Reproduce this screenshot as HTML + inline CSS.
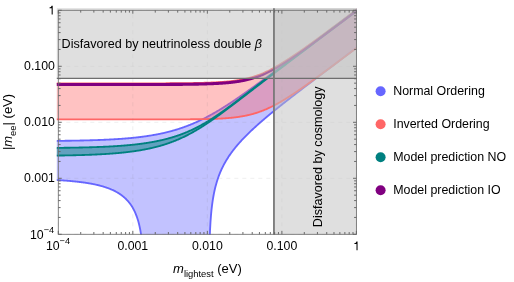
<!DOCTYPE html>
<html><head><meta charset="utf-8"><title>Neutrinoless double beta decay</title>
<style>html,body{margin:0;padding:0;background:#fff;width:514px;height:282px;overflow:hidden}
body{position:relative;font-family:"Liberation Sans",sans-serif}</style></head>
<body>
<svg width="514" height="282" viewBox="0 0 514 282" style="will-change:transform;position:absolute;left:0;top:0;display:block">
<defs><clipPath id="c"><rect x="56.8" y="8.2" width="300.2" height="226.5"/></clipPath></defs>
<rect x="0" y="0" width="514" height="282" fill="#fff"/>
<g clip-path="url(#c)" fill="none" stroke-linejoin="round">
<path d="M54.00,140.92 L54.50,140.91 L55.00,140.91 L55.50,140.90 L56.00,140.90 L56.50,140.89 L57.00,140.89 L57.50,140.88 L58.00,140.88 L58.50,140.87 L59.00,140.87 L59.50,140.86 L60.00,140.85 L60.50,140.85 L61.00,140.84 L61.50,140.84 L62.00,140.83 L62.50,140.82 L63.00,140.82 L63.50,140.81 L64.00,140.80 L64.50,140.80 L65.00,140.79 L65.50,140.79 L66.00,140.78 L66.50,140.77 L67.00,140.76 L67.50,140.76 L68.00,140.75 L68.50,140.74 L69.00,140.73 L69.50,140.73 L70.00,140.72 L70.50,140.71 L71.00,140.70 L71.50,140.70 L72.00,140.69 L72.50,140.68 L73.00,140.67 L73.50,140.66 L74.00,140.65 L74.50,140.64 L75.00,140.64 L75.50,140.63 L76.00,140.62 L76.50,140.61 L77.00,140.60 L77.50,140.59 L78.00,140.58 L78.50,140.57 L79.00,140.56 L79.50,140.55 L80.00,140.54 L80.50,140.53 L81.00,140.52 L81.50,140.50 L82.00,140.49 L82.50,140.48 L83.00,140.47 L83.50,140.46 L84.00,140.45 L84.50,140.43 L85.00,140.42 L85.50,140.41 L86.00,140.40 L86.50,140.38 L87.00,140.37 L87.50,140.36 L88.00,140.35 L88.50,140.33 L89.00,140.32 L89.50,140.30 L90.00,140.29 L90.50,140.28 L91.00,140.26 L91.50,140.25 L92.00,140.23 L92.50,140.22 L93.00,140.20 L93.50,140.18 L94.00,140.17 L94.50,140.15 L95.00,140.14 L95.50,140.12 L96.00,140.10 L96.50,140.08 L97.00,140.07 L97.50,140.05 L98.00,140.03 L98.50,140.01 L99.00,139.99 L99.50,139.98 L100.00,139.96 L100.50,139.94 L101.00,139.92 L101.50,139.90 L102.00,139.88 L102.50,139.86 L103.00,139.83 L103.50,139.81 L104.00,139.79 L104.50,139.77 L105.00,139.75 L105.50,139.73 L106.00,139.70 L106.50,139.68 L107.00,139.66 L107.50,139.63 L108.00,139.61 L108.50,139.58 L109.00,139.56 L109.50,139.53 L110.00,139.51 L110.50,139.48 L111.00,139.45 L111.50,139.43 L112.00,139.40 L112.50,139.37 L113.00,139.34 L113.50,139.31 L114.00,139.29 L114.50,139.26 L115.00,139.23 L115.50,139.20 L116.00,139.17 L116.50,139.13 L117.00,139.10 L117.50,139.07 L118.00,139.04 L118.50,139.01 L119.00,138.97 L119.50,138.94 L120.00,138.90 L120.50,138.87 L121.00,138.83 L121.50,138.80 L122.00,138.76 L122.50,138.72 L123.00,138.68 L123.50,138.65 L124.00,138.61 L124.50,138.57 L125.00,138.53 L125.50,138.49 L126.00,138.45 L126.50,138.41 L127.00,138.36 L127.50,138.32 L128.00,138.28 L128.50,138.23 L129.00,138.19 L129.50,138.14 L130.00,138.10 L130.50,138.05 L131.00,138.00 L131.50,137.96 L132.00,137.91 L132.50,137.86 L133.00,137.81 L133.50,137.76 L134.00,137.70 L134.50,137.65 L135.00,137.60 L135.50,137.55 L136.00,137.49 L136.50,137.44 L137.00,137.38 L137.50,137.32 L138.00,137.27 L138.50,137.21 L139.00,137.15 L139.50,137.09 L140.00,137.03 L140.50,136.97 L141.00,136.90 L141.50,136.84 L142.00,136.78 L142.50,136.71 L143.00,136.64 L143.50,136.58 L144.00,136.51 L144.50,136.44 L145.00,136.37 L145.50,136.30 L146.00,136.23 L146.50,136.16 L147.00,136.08 L147.50,136.01 L148.00,135.93 L148.50,135.86 L149.00,135.78 L149.50,135.70 L150.00,135.62 L150.50,135.54 L151.00,135.46 L151.50,135.38 L152.00,135.29 L152.50,135.21 L153.00,135.12 L153.50,135.03 L154.00,134.94 L154.50,134.86 L155.00,134.76 L155.50,134.67 L156.00,134.58 L156.50,134.48 L157.00,134.39 L157.50,134.29 L158.00,134.19 L158.50,134.10 L159.00,133.99 L159.50,133.89 L160.00,133.79 L160.50,133.69 L161.00,133.58 L161.50,133.47 L162.00,133.36 L162.50,133.26 L163.00,133.14 L163.50,133.03 L164.00,132.92 L164.50,132.80 L165.00,132.69 L165.50,132.57 L166.00,132.45 L166.50,132.33 L167.00,132.21 L167.50,132.08 L168.00,131.96 L168.50,131.83 L169.00,131.70 L169.50,131.57 L170.00,131.44 L170.50,131.31 L171.00,131.17 L171.50,131.04 L172.00,130.90 L172.50,130.76 L173.00,130.62 L173.50,130.48 L174.00,130.33 L174.50,130.19 L175.00,130.04 L175.50,129.89 L176.00,129.74 L176.50,129.59 L177.00,129.44 L177.50,129.28 L178.00,129.12 L178.50,128.97 L179.00,128.80 L179.50,128.64 L180.00,128.48 L180.50,128.31 L181.00,128.15 L181.50,127.98 L182.00,127.81 L182.50,127.63 L183.00,127.46 L183.50,127.28 L184.00,127.10 L184.50,126.92 L185.00,126.74 L185.50,126.56 L186.00,126.37 L186.50,126.19 L187.00,126.00 L187.50,125.81 L188.00,125.62 L188.50,125.42 L189.00,125.23 L189.50,125.03 L190.00,124.83 L190.50,124.63 L191.00,124.42 L191.50,124.22 L192.00,124.01 L192.50,123.80 L193.00,123.59 L193.50,123.38 L194.00,123.16 L194.50,122.95 L195.00,122.73 L195.50,122.51 L196.00,122.29 L196.50,122.06 L197.00,121.84 L197.50,121.61 L198.00,121.38 L198.50,121.15 L199.00,120.92 L199.50,120.68 L200.00,120.44 L200.50,120.21 L201.00,119.97 L201.50,119.72 L202.00,119.48 L202.50,119.23 L203.00,118.99 L203.50,118.74 L204.00,118.49 L204.50,118.23 L205.00,117.98 L205.50,117.72 L206.00,117.46 L206.50,117.20 L207.00,116.94 L207.50,116.68 L208.00,116.41 L208.50,116.15 L209.00,115.88 L209.50,115.61 L210.00,115.34 L210.50,115.06 L211.00,114.79 L211.50,114.51 L212.00,114.23 L212.50,113.95 L213.00,113.67 L213.50,113.39 L214.00,113.10 L214.50,112.82 L215.00,112.53 L215.50,112.24 L216.00,111.95 L216.50,111.65 L217.00,111.36 L217.50,111.07 L218.00,110.77 L218.50,110.47 L219.00,110.17 L219.50,109.87 L220.00,109.56 L220.50,109.26 L221.00,108.95 L221.50,108.65 L222.00,108.34 L222.50,108.03 L223.00,107.72 L223.50,107.41 L224.00,107.09 L224.50,106.78 L225.00,106.46 L225.50,106.14 L226.00,105.82 L226.50,105.50 L227.00,105.18 L227.50,104.86 L228.00,104.54 L228.50,104.21 L229.00,103.89 L229.50,103.56 L230.00,103.23 L230.50,102.90 L231.00,102.57 L231.50,102.24 L232.00,101.91 L232.50,101.58 L233.00,101.24 L233.50,100.91 L234.00,100.57 L234.50,100.23 L235.00,99.90 L235.50,99.56 L236.00,99.22 L236.50,98.88 L237.00,98.53 L237.50,98.19 L238.00,97.85 L238.50,97.50 L239.00,97.16 L239.50,96.81 L240.00,96.47 L240.50,96.12 L241.00,95.77 L241.50,95.43 L242.00,95.08 L242.50,94.73 L243.00,94.38 L243.50,94.02 L244.00,93.67 L244.50,93.32 L245.00,92.97 L245.50,92.61 L246.00,92.26 L246.50,91.90 L247.00,91.55 L247.50,91.19 L248.00,90.84 L248.50,90.48 L249.00,90.12 L249.50,89.76 L250.00,89.41 L250.50,89.05 L251.00,88.69 L251.50,88.33 L252.00,87.97 L252.50,87.61 L253.00,87.25 L253.50,86.88 L254.00,86.52 L254.50,86.16 L255.00,85.80 L255.50,85.44 L256.00,85.07 L256.50,84.71 L257.00,84.34 L257.50,83.98 L258.00,83.62 L258.50,83.25 L259.00,82.88 L259.50,82.52 L260.00,82.15 L260.50,81.79 L261.00,81.42 L261.50,81.05 L262.00,80.69 L262.50,80.32 L263.00,79.95 L263.50,79.58 L264.00,79.22 L264.50,78.85 L265.00,78.48 L265.50,78.11 L266.00,77.74 L266.50,77.37 L267.00,77.00 L267.50,76.64 L268.00,76.27 L268.50,75.90 L269.00,75.53 L269.50,75.16 L270.00,74.79 L270.50,74.42 L271.00,74.04 L271.50,73.67 L272.00,73.30 L272.50,72.93 L273.00,72.56 L273.50,72.19 L274.00,71.82 L274.50,71.45 L275.00,71.07 L275.50,70.70 L276.00,70.33 L276.50,69.96 L277.00,69.59 L277.50,69.21 L278.00,68.84 L278.50,68.47 L279.00,68.10 L279.50,67.72 L280.00,67.35 L280.50,66.98 L281.00,66.61 L281.50,66.23 L282.00,65.86 L282.50,65.49 L283.00,65.11 L283.50,64.74 L284.00,64.37 L284.50,63.99 L285.00,63.62 L285.50,63.25 L286.00,62.87 L286.50,62.50 L287.00,62.13 L287.50,61.75 L288.00,61.38 L288.50,61.00 L289.00,60.63 L289.50,60.26 L290.00,59.88 L290.50,59.51 L291.00,59.13 L291.50,58.76 L292.00,58.39 L292.50,58.01 L293.00,57.64 L293.50,57.26 L294.00,56.89 L294.50,56.51 L295.00,56.14 L295.50,55.76 L296.00,55.39 L296.50,55.01 L297.00,54.64 L297.50,54.27 L298.00,53.89 L298.50,53.52 L299.00,53.14 L299.50,52.77 L300.00,52.39 L300.50,52.02 L301.00,51.64 L301.50,51.27 L302.00,50.89 L302.50,50.52 L303.00,50.14 L303.50,49.77 L304.00,49.39 L304.50,49.02 L305.00,48.64 L305.50,48.27 L306.00,47.89 L306.50,47.52 L307.00,47.14 L307.50,46.77 L308.00,46.39 L308.50,46.02 L309.00,45.64 L309.50,45.27 L310.00,44.89 L310.50,44.52 L311.00,44.14 L311.50,43.76 L312.00,43.39 L312.50,43.01 L313.00,42.64 L313.50,42.26 L314.00,41.89 L314.50,41.51 L315.00,41.14 L315.50,40.76 L316.00,40.39 L316.50,40.01 L317.00,39.64 L317.50,39.26 L318.00,38.88 L318.50,38.51 L319.00,38.13 L319.50,37.76 L320.00,37.38 L320.50,37.01 L321.00,36.63 L321.50,36.26 L322.00,35.88 L322.50,35.51 L323.00,35.13 L323.50,34.75 L324.00,34.38 L324.50,34.00 L325.00,33.63 L325.50,33.25 L326.00,32.88 L326.50,32.50 L327.00,32.13 L327.50,31.75 L328.00,31.37 L328.50,31.00 L329.00,30.62 L329.50,30.25 L330.00,29.87 L330.50,29.50 L331.00,29.12 L331.50,28.75 L332.00,28.37 L332.50,27.99 L333.00,27.62 L333.50,27.24 L334.00,26.87 L334.50,26.49 L335.00,26.12 L335.50,25.74 L336.00,25.37 L336.50,24.99 L337.00,24.61 L337.50,24.24 L338.00,23.86 L338.50,23.49 L339.00,23.11 L339.50,22.74 L340.00,22.36 L340.50,21.98 L341.00,21.61 L341.50,21.23 L342.00,20.86 L342.50,20.48 L343.00,20.11 L343.50,19.73 L344.00,19.36 L344.50,18.98 L345.00,18.60 L345.50,18.23 L346.00,17.85 L346.50,17.48 L347.00,17.10 L347.50,16.73 L348.00,16.35 L348.50,15.97 L349.00,15.60 L349.50,15.22 L350.00,14.85 L350.50,14.47 L351.00,14.10 L351.50,13.72 L352.00,13.34 L352.50,12.97 L353.00,12.59 L353.50,12.22 L354.00,11.84 L354.50,11.47 L355.00,11.09 L355.50,10.71 L356.00,10.34 L356.50,9.96 L357.00,9.59 L357.50,9.21 L358.00,8.84 L358.50,8.46 L359.00,8.08 L359.50,7.71 L359.50,45.59 L359.00,45.96 L358.50,46.34 L358.00,46.72 L357.50,47.09 L357.00,47.47 L356.50,47.84 L356.00,48.22 L355.50,48.60 L355.00,48.97 L354.50,49.35 L354.00,49.72 L353.50,50.10 L353.00,50.48 L352.50,50.85 L352.00,51.23 L351.50,51.60 L351.00,51.98 L350.50,52.36 L350.00,52.73 L349.50,53.11 L349.00,53.48 L348.50,53.86 L348.00,54.24 L347.50,54.61 L347.00,54.99 L346.50,55.36 L346.00,55.74 L345.50,56.12 L345.00,56.49 L344.50,56.87 L344.00,57.25 L343.50,57.62 L343.00,58.00 L342.50,58.37 L342.00,58.75 L341.50,59.13 L341.00,59.50 L340.50,59.88 L340.00,60.26 L339.50,60.63 L339.00,61.01 L338.50,61.39 L338.00,61.76 L337.50,62.14 L337.00,62.52 L336.50,62.89 L336.00,63.27 L335.50,63.64 L335.00,64.02 L334.50,64.40 L334.00,64.77 L333.50,65.15 L333.00,65.53 L332.50,65.91 L332.00,66.28 L331.50,66.66 L331.00,67.04 L330.50,67.41 L330.00,67.79 L329.50,68.17 L329.00,68.54 L328.50,68.92 L328.00,69.30 L327.50,69.67 L327.00,70.05 L326.50,70.43 L326.00,70.81 L325.50,71.18 L325.00,71.56 L324.50,71.94 L324.00,72.32 L323.50,72.69 L323.00,73.07 L322.50,73.45 L322.00,73.83 L321.50,74.20 L321.00,74.58 L320.50,74.96 L320.00,75.34 L319.50,75.72 L319.00,76.09 L318.50,76.47 L318.00,76.85 L317.50,77.23 L317.00,77.61 L316.50,77.99 L316.00,78.36 L315.50,78.74 L315.00,79.12 L314.50,79.50 L314.00,79.88 L313.50,80.26 L313.00,80.64 L312.50,81.02 L312.00,81.40 L311.50,81.78 L311.00,82.16 L310.50,82.54 L310.00,82.92 L309.50,83.30 L309.00,83.68 L308.50,84.06 L308.00,84.44 L307.50,84.82 L307.00,85.20 L306.50,85.58 L306.00,85.96 L305.50,86.34 L305.00,86.72 L304.50,87.10 L304.00,87.48 L303.50,87.87 L303.00,88.25 L302.50,88.63 L302.00,89.01 L301.50,89.40 L301.00,89.78 L300.50,90.16 L300.00,90.54 L299.50,90.93 L299.00,91.31 L298.50,91.69 L298.00,92.08 L297.50,92.46 L297.00,92.85 L296.50,93.23 L296.00,93.62 L295.50,94.00 L295.00,94.39 L294.50,94.77 L294.00,95.16 L293.50,95.55 L293.00,95.93 L292.50,96.32 L292.00,96.71 L291.50,97.09 L291.00,97.48 L290.50,97.87 L290.00,98.26 L289.50,98.65 L289.00,99.04 L288.50,99.43 L288.00,99.82 L287.50,100.21 L287.00,100.60 L286.50,100.99 L286.00,101.38 L285.50,101.78 L285.00,102.17 L284.50,102.56 L284.00,102.96 L283.50,103.35 L283.00,103.74 L282.50,104.14 L282.00,104.54 L281.50,104.93 L281.00,105.33 L280.50,105.73 L280.00,106.12 L279.50,106.52 L279.00,106.92 L278.50,107.32 L278.00,107.72 L277.50,108.12 L277.00,108.52 L276.50,108.93 L276.00,109.33 L275.50,109.73 L275.00,110.14 L274.50,110.54 L274.00,110.95 L273.50,111.36 L273.00,111.76 L272.50,112.17 L272.00,112.58 L271.50,112.99 L271.00,113.40 L270.50,113.82 L270.00,114.23 L269.50,114.64 L269.00,115.06 L268.50,115.47 L268.00,115.89 L267.50,116.31 L267.00,116.73 L266.50,117.15 L266.00,117.57 L265.50,117.99 L265.00,118.41 L264.50,118.84 L264.00,119.27 L263.50,119.69 L263.00,120.12 L262.50,120.55 L262.00,120.98 L261.50,121.42 L261.00,121.85 L260.50,122.29 L260.00,122.72 L259.50,123.16 L259.00,123.60 L258.50,124.04 L258.00,124.49 L257.50,124.93 L257.00,125.38 L256.50,125.83 L256.00,126.28 L255.50,126.73 L255.00,127.19 L254.50,127.64 L254.00,128.10 L253.50,128.56 L253.00,129.03 L252.50,129.49 L252.00,129.96 L251.50,130.43 L251.00,130.90 L250.50,131.38 L250.00,131.86 L249.50,132.34 L249.00,132.82 L248.50,133.31 L248.00,133.80 L247.50,134.29 L247.00,134.79 L246.50,135.28 L246.00,135.79 L245.50,136.29 L245.00,136.80 L244.50,137.31 L244.00,137.83 L243.50,138.35 L243.00,138.88 L242.50,139.41 L242.00,139.94 L241.50,140.48 L241.00,141.02 L240.50,141.57 L240.00,142.12 L239.50,142.68 L239.00,143.24 L238.50,143.81 L238.00,144.39 L237.50,144.97 L237.00,145.56 L236.50,146.15 L236.00,146.75 L235.50,147.36 L235.00,147.98 L234.50,148.60 L234.00,149.24 L233.50,149.88 L233.00,150.53 L232.50,151.19 L232.00,151.86 L231.50,152.54 L231.00,153.23 L230.50,153.93 L230.00,154.64 L229.50,155.37 L229.00,156.11 L228.50,156.86 L228.00,157.63 L227.50,158.41 L227.00,159.21 L226.50,160.03 L226.00,160.86 L225.50,161.72 L225.00,162.60 L224.50,163.49 L224.00,164.42 L223.50,165.36 L223.00,166.34 L222.50,167.34 L222.00,168.38 L221.50,169.45 L221.00,170.56 L220.50,171.71 L220.00,172.90 L219.50,174.14 L219.00,175.43 L218.50,176.78 L218.00,178.20 L217.50,179.68 L217.00,181.25 L216.50,182.91 L216.00,184.67 L215.50,186.56 L215.00,188.58 L214.50,190.76 L214.00,193.13 L213.50,195.74 L213.00,198.62 L212.50,201.87 L212.00,205.58 L211.50,209.93 L211.00,215.16 L210.50,221.78 L210.00,230.82 L209.50,245.17 L209.00,284.09 L208.50,400.00 L208.00,400.00 L207.50,400.00 L207.00,400.00 L206.50,400.00 L206.00,400.00 L205.50,400.00 L205.00,400.00 L204.50,400.00 L204.00,400.00 L203.50,400.00 L203.00,400.00 L202.50,400.00 L202.00,400.00 L201.50,400.00 L201.00,400.00 L200.50,400.00 L200.00,400.00 L199.50,400.00 L199.00,400.00 L198.50,400.00 L198.00,400.00 L197.50,400.00 L197.00,400.00 L196.50,400.00 L196.00,400.00 L195.50,400.00 L195.00,400.00 L194.50,400.00 L194.00,400.00 L193.50,400.00 L193.00,400.00 L192.50,400.00 L192.00,400.00 L191.50,400.00 L191.00,400.00 L190.50,400.00 L190.00,400.00 L189.50,400.00 L189.00,400.00 L188.50,400.00 L188.00,400.00 L187.50,400.00 L187.00,400.00 L186.50,400.00 L186.00,400.00 L185.50,400.00 L185.00,400.00 L184.50,400.00 L184.00,400.00 L183.50,400.00 L183.00,400.00 L182.50,400.00 L182.00,400.00 L181.50,400.00 L181.00,400.00 L180.50,400.00 L180.00,400.00 L179.50,400.00 L179.00,400.00 L178.50,400.00 L178.00,400.00 L177.50,400.00 L177.00,400.00 L176.50,400.00 L176.00,400.00 L175.50,400.00 L175.00,400.00 L174.50,400.00 L174.00,400.00 L173.50,400.00 L173.00,400.00 L172.50,400.00 L172.00,400.00 L171.50,400.00 L171.00,400.00 L170.50,400.00 L170.00,400.00 L169.50,400.00 L169.00,400.00 L168.50,400.00 L168.00,400.00 L167.50,400.00 L167.00,400.00 L166.50,400.00 L166.00,400.00 L165.50,400.00 L165.00,400.00 L164.50,400.00 L164.00,400.00 L163.50,400.00 L163.00,400.00 L162.50,400.00 L162.00,400.00 L161.50,400.00 L161.00,400.00 L160.50,400.00 L160.00,400.00 L159.50,400.00 L159.00,400.00 L158.50,400.00 L158.00,400.00 L157.50,400.00 L157.00,400.00 L156.50,400.00 L156.00,400.00 L155.50,400.00 L155.00,400.00 L154.50,400.00 L154.00,400.00 L153.50,400.00 L153.00,400.00 L152.50,400.00 L152.00,400.00 L151.50,400.00 L151.00,400.00 L150.50,400.00 L150.00,400.00 L149.50,400.00 L149.00,400.00 L148.50,400.00 L148.00,400.00 L147.50,400.00 L147.00,400.00 L146.50,400.00 L146.00,400.00 L145.50,400.00 L145.00,400.00 L144.50,333.72 L144.00,278.27 L143.50,262.86 L143.00,253.60 L142.50,247.00 L142.00,241.88 L141.50,237.71 L141.00,234.20 L140.50,231.17 L140.00,228.51 L139.50,226.15 L139.00,224.03 L138.50,222.10 L138.00,220.34 L137.50,218.73 L137.00,217.23 L136.50,215.84 L136.00,214.55 L135.50,213.33 L135.00,212.20 L134.50,211.12 L134.00,210.11 L133.50,209.15 L133.00,208.24 L132.50,207.38 L132.00,206.56 L131.50,205.77 L131.00,205.03 L130.50,204.31 L130.00,203.62 L129.50,202.97 L129.00,202.34 L128.50,201.73 L128.00,201.15 L127.50,200.59 L127.00,200.05 L126.50,199.53 L126.00,199.03 L125.50,198.54 L125.00,198.07 L124.50,197.62 L124.00,197.18 L123.50,196.76 L123.00,196.35 L122.50,195.95 L122.00,195.56 L121.50,195.19 L121.00,194.83 L120.50,194.47 L120.00,194.13 L119.50,193.80 L119.00,193.47 L118.50,193.16 L118.00,192.85 L117.50,192.56 L117.00,192.27 L116.50,191.98 L116.00,191.71 L115.50,191.44 L115.00,191.18 L114.50,190.93 L114.00,190.68 L113.50,190.44 L113.00,190.20 L112.50,189.97 L112.00,189.75 L111.50,189.53 L111.00,189.31 L110.50,189.10 L110.00,188.90 L109.50,188.70 L109.00,188.51 L108.50,188.31 L108.00,188.13 L107.50,187.95 L107.00,187.77 L106.50,187.59 L106.00,187.42 L105.50,187.26 L105.00,187.10 L104.50,186.94 L104.00,186.78 L103.50,186.63 L103.00,186.48 L102.50,186.33 L102.00,186.19 L101.50,186.05 L101.00,185.91 L100.50,185.78 L100.00,185.64 L99.50,185.51 L99.00,185.39 L98.50,185.26 L98.00,185.14 L97.50,185.02 L97.00,184.91 L96.50,184.79 L96.00,184.68 L95.50,184.57 L95.00,184.46 L94.50,184.36 L94.00,184.25 L93.50,184.15 L93.00,184.05 L92.50,183.95 L92.00,183.86 L91.50,183.76 L91.00,183.67 L90.50,183.58 L90.00,183.49 L89.50,183.40 L89.00,183.32 L88.50,183.23 L88.00,183.15 L87.50,183.07 L87.00,182.99 L86.50,182.91 L86.00,182.84 L85.50,182.76 L85.00,182.69 L84.50,182.62 L84.00,182.54 L83.50,182.47 L83.00,182.41 L82.50,182.34 L82.00,182.27 L81.50,182.21 L81.00,182.14 L80.50,182.08 L80.00,182.02 L79.50,181.96 L79.00,181.90 L78.50,181.84 L78.00,181.78 L77.50,181.73 L77.00,181.67 L76.50,181.62 L76.00,181.56 L75.50,181.51 L75.00,181.46 L74.50,181.41 L74.00,181.36 L73.50,181.31 L73.00,181.26 L72.50,181.21 L72.00,181.17 L71.50,181.12 L71.00,181.08 L70.50,181.03 L70.00,180.99 L69.50,180.94 L69.00,180.90 L68.50,180.86 L68.00,180.82 L67.50,180.78 L67.00,180.74 L66.50,180.70 L66.00,180.66 L65.50,180.63 L65.00,180.59 L64.50,180.55 L64.00,180.52 L63.50,180.48 L63.00,180.45 L62.50,180.42 L62.00,180.38 L61.50,180.35 L61.00,180.32 L60.50,180.29 L60.00,180.26 L59.50,180.23 L59.00,180.20 L58.50,180.17 L58.00,180.14 L57.50,180.11 L57.00,180.08 L56.50,180.05 L56.00,180.03 L55.50,180.00 L55.00,179.97 L54.50,179.95 L54.00,179.92Z" fill="rgb(102,102,255)" fill-opacity="0.4" stroke="none"/>
<path d="M54.00,140.92 L54.50,140.91 L55.00,140.91 L55.50,140.90 L56.00,140.90 L56.50,140.89 L57.00,140.89 L57.50,140.88 L58.00,140.88 L58.50,140.87 L59.00,140.87 L59.50,140.86 L60.00,140.85 L60.50,140.85 L61.00,140.84 L61.50,140.84 L62.00,140.83 L62.50,140.82 L63.00,140.82 L63.50,140.81 L64.00,140.80 L64.50,140.80 L65.00,140.79 L65.50,140.79 L66.00,140.78 L66.50,140.77 L67.00,140.76 L67.50,140.76 L68.00,140.75 L68.50,140.74 L69.00,140.73 L69.50,140.73 L70.00,140.72 L70.50,140.71 L71.00,140.70 L71.50,140.70 L72.00,140.69 L72.50,140.68 L73.00,140.67 L73.50,140.66 L74.00,140.65 L74.50,140.64 L75.00,140.64 L75.50,140.63 L76.00,140.62 L76.50,140.61 L77.00,140.60 L77.50,140.59 L78.00,140.58 L78.50,140.57 L79.00,140.56 L79.50,140.55 L80.00,140.54 L80.50,140.53 L81.00,140.52 L81.50,140.50 L82.00,140.49 L82.50,140.48 L83.00,140.47 L83.50,140.46 L84.00,140.45 L84.50,140.43 L85.00,140.42 L85.50,140.41 L86.00,140.40 L86.50,140.38 L87.00,140.37 L87.50,140.36 L88.00,140.35 L88.50,140.33 L89.00,140.32 L89.50,140.30 L90.00,140.29 L90.50,140.28 L91.00,140.26 L91.50,140.25 L92.00,140.23 L92.50,140.22 L93.00,140.20 L93.50,140.18 L94.00,140.17 L94.50,140.15 L95.00,140.14 L95.50,140.12 L96.00,140.10 L96.50,140.08 L97.00,140.07 L97.50,140.05 L98.00,140.03 L98.50,140.01 L99.00,139.99 L99.50,139.98 L100.00,139.96 L100.50,139.94 L101.00,139.92 L101.50,139.90 L102.00,139.88 L102.50,139.86 L103.00,139.83 L103.50,139.81 L104.00,139.79 L104.50,139.77 L105.00,139.75 L105.50,139.73 L106.00,139.70 L106.50,139.68 L107.00,139.66 L107.50,139.63 L108.00,139.61 L108.50,139.58 L109.00,139.56 L109.50,139.53 L110.00,139.51 L110.50,139.48 L111.00,139.45 L111.50,139.43 L112.00,139.40 L112.50,139.37 L113.00,139.34 L113.50,139.31 L114.00,139.29 L114.50,139.26 L115.00,139.23 L115.50,139.20 L116.00,139.17 L116.50,139.13 L117.00,139.10 L117.50,139.07 L118.00,139.04 L118.50,139.01 L119.00,138.97 L119.50,138.94 L120.00,138.90 L120.50,138.87 L121.00,138.83 L121.50,138.80 L122.00,138.76 L122.50,138.72 L123.00,138.68 L123.50,138.65 L124.00,138.61 L124.50,138.57 L125.00,138.53 L125.50,138.49 L126.00,138.45 L126.50,138.41 L127.00,138.36 L127.50,138.32 L128.00,138.28 L128.50,138.23 L129.00,138.19 L129.50,138.14 L130.00,138.10 L130.50,138.05 L131.00,138.00 L131.50,137.96 L132.00,137.91 L132.50,137.86 L133.00,137.81 L133.50,137.76 L134.00,137.70 L134.50,137.65 L135.00,137.60 L135.50,137.55 L136.00,137.49 L136.50,137.44 L137.00,137.38 L137.50,137.32 L138.00,137.27 L138.50,137.21 L139.00,137.15 L139.50,137.09 L140.00,137.03 L140.50,136.97 L141.00,136.90 L141.50,136.84 L142.00,136.78 L142.50,136.71 L143.00,136.64 L143.50,136.58 L144.00,136.51 L144.50,136.44 L145.00,136.37 L145.50,136.30 L146.00,136.23 L146.50,136.16 L147.00,136.08 L147.50,136.01 L148.00,135.93 L148.50,135.86 L149.00,135.78 L149.50,135.70 L150.00,135.62 L150.50,135.54 L151.00,135.46 L151.50,135.38 L152.00,135.29 L152.50,135.21 L153.00,135.12 L153.50,135.03 L154.00,134.94 L154.50,134.86 L155.00,134.76 L155.50,134.67 L156.00,134.58 L156.50,134.48 L157.00,134.39 L157.50,134.29 L158.00,134.19 L158.50,134.10 L159.00,133.99 L159.50,133.89 L160.00,133.79 L160.50,133.69 L161.00,133.58 L161.50,133.47 L162.00,133.36 L162.50,133.26 L163.00,133.14 L163.50,133.03 L164.00,132.92 L164.50,132.80 L165.00,132.69 L165.50,132.57 L166.00,132.45 L166.50,132.33 L167.00,132.21 L167.50,132.08 L168.00,131.96 L168.50,131.83 L169.00,131.70 L169.50,131.57 L170.00,131.44 L170.50,131.31 L171.00,131.17 L171.50,131.04 L172.00,130.90 L172.50,130.76 L173.00,130.62 L173.50,130.48 L174.00,130.33 L174.50,130.19 L175.00,130.04 L175.50,129.89 L176.00,129.74 L176.50,129.59 L177.00,129.44 L177.50,129.28 L178.00,129.12 L178.50,128.97 L179.00,128.80 L179.50,128.64 L180.00,128.48 L180.50,128.31 L181.00,128.15 L181.50,127.98 L182.00,127.81 L182.50,127.63 L183.00,127.46 L183.50,127.28 L184.00,127.10 L184.50,126.92 L185.00,126.74 L185.50,126.56 L186.00,126.37 L186.50,126.19 L187.00,126.00 L187.50,125.81 L188.00,125.62 L188.50,125.42 L189.00,125.23 L189.50,125.03 L190.00,124.83 L190.50,124.63 L191.00,124.42 L191.50,124.22 L192.00,124.01 L192.50,123.80 L193.00,123.59 L193.50,123.38 L194.00,123.16 L194.50,122.95 L195.00,122.73 L195.50,122.51 L196.00,122.29 L196.50,122.06 L197.00,121.84 L197.50,121.61 L198.00,121.38 L198.50,121.15 L199.00,120.92 L199.50,120.68 L200.00,120.44 L200.50,120.21 L201.00,119.97 L201.50,119.72 L202.00,119.48 L202.50,119.23 L203.00,118.99 L203.50,118.74 L204.00,118.49 L204.50,118.23 L205.00,117.98 L205.50,117.72 L206.00,117.46 L206.50,117.20 L207.00,116.94 L207.50,116.68 L208.00,116.41 L208.50,116.15 L209.00,115.88 L209.50,115.61 L210.00,115.34 L210.50,115.06 L211.00,114.79 L211.50,114.51 L212.00,114.23 L212.50,113.95 L213.00,113.67 L213.50,113.39 L214.00,113.10 L214.50,112.82 L215.00,112.53 L215.50,112.24 L216.00,111.95 L216.50,111.65 L217.00,111.36 L217.50,111.07 L218.00,110.77 L218.50,110.47 L219.00,110.17 L219.50,109.87 L220.00,109.56 L220.50,109.26 L221.00,108.95 L221.50,108.65 L222.00,108.34 L222.50,108.03 L223.00,107.72 L223.50,107.41 L224.00,107.09 L224.50,106.78 L225.00,106.46 L225.50,106.14 L226.00,105.82 L226.50,105.50 L227.00,105.18 L227.50,104.86 L228.00,104.54 L228.50,104.21 L229.00,103.89 L229.50,103.56 L230.00,103.23 L230.50,102.90 L231.00,102.57 L231.50,102.24 L232.00,101.91 L232.50,101.58 L233.00,101.24 L233.50,100.91 L234.00,100.57 L234.50,100.23 L235.00,99.90 L235.50,99.56 L236.00,99.22 L236.50,98.88 L237.00,98.53 L237.50,98.19 L238.00,97.85 L238.50,97.50 L239.00,97.16 L239.50,96.81 L240.00,96.47 L240.50,96.12 L241.00,95.77 L241.50,95.43 L242.00,95.08 L242.50,94.73 L243.00,94.38 L243.50,94.02 L244.00,93.67 L244.50,93.32 L245.00,92.97 L245.50,92.61 L246.00,92.26 L246.50,91.90 L247.00,91.55 L247.50,91.19 L248.00,90.84 L248.50,90.48 L249.00,90.12 L249.50,89.76 L250.00,89.41 L250.50,89.05 L251.00,88.69 L251.50,88.33 L252.00,87.97 L252.50,87.61 L253.00,87.25 L253.50,86.88 L254.00,86.52 L254.50,86.16 L255.00,85.80 L255.50,85.44 L256.00,85.07 L256.50,84.71 L257.00,84.34 L257.50,83.98 L258.00,83.62 L258.50,83.25 L259.00,82.88 L259.50,82.52 L260.00,82.15 L260.50,81.79 L261.00,81.42 L261.50,81.05 L262.00,80.69 L262.50,80.32 L263.00,79.95 L263.50,79.58 L264.00,79.22 L264.50,78.85 L265.00,78.48 L265.50,78.11 L266.00,77.74 L266.50,77.37 L267.00,77.00 L267.50,76.64 L268.00,76.27 L268.50,75.90 L269.00,75.53 L269.50,75.16 L270.00,74.79 L270.50,74.42 L271.00,74.04 L271.50,73.67 L272.00,73.30 L272.50,72.93 L273.00,72.56 L273.50,72.19 L274.00,71.82 L274.50,71.45 L275.00,71.07 L275.50,70.70 L276.00,70.33 L276.50,69.96 L277.00,69.59 L277.50,69.21 L278.00,68.84 L278.50,68.47 L279.00,68.10 L279.50,67.72 L280.00,67.35 L280.50,66.98 L281.00,66.61 L281.50,66.23 L282.00,65.86 L282.50,65.49 L283.00,65.11 L283.50,64.74 L284.00,64.37 L284.50,63.99 L285.00,63.62 L285.50,63.25 L286.00,62.87 L286.50,62.50 L287.00,62.13 L287.50,61.75 L288.00,61.38 L288.50,61.00 L289.00,60.63 L289.50,60.26 L290.00,59.88 L290.50,59.51 L291.00,59.13 L291.50,58.76 L292.00,58.39 L292.50,58.01 L293.00,57.64 L293.50,57.26 L294.00,56.89 L294.50,56.51 L295.00,56.14 L295.50,55.76 L296.00,55.39 L296.50,55.01 L297.00,54.64 L297.50,54.27 L298.00,53.89 L298.50,53.52 L299.00,53.14 L299.50,52.77 L300.00,52.39 L300.50,52.02 L301.00,51.64 L301.50,51.27 L302.00,50.89 L302.50,50.52 L303.00,50.14 L303.50,49.77 L304.00,49.39 L304.50,49.02 L305.00,48.64 L305.50,48.27 L306.00,47.89 L306.50,47.52 L307.00,47.14 L307.50,46.77 L308.00,46.39 L308.50,46.02 L309.00,45.64 L309.50,45.27 L310.00,44.89 L310.50,44.52 L311.00,44.14 L311.50,43.76 L312.00,43.39 L312.50,43.01 L313.00,42.64 L313.50,42.26 L314.00,41.89 L314.50,41.51 L315.00,41.14 L315.50,40.76 L316.00,40.39 L316.50,40.01 L317.00,39.64 L317.50,39.26 L318.00,38.88 L318.50,38.51 L319.00,38.13 L319.50,37.76 L320.00,37.38 L320.50,37.01 L321.00,36.63 L321.50,36.26 L322.00,35.88 L322.50,35.51 L323.00,35.13 L323.50,34.75 L324.00,34.38 L324.50,34.00 L325.00,33.63 L325.50,33.25 L326.00,32.88 L326.50,32.50 L327.00,32.13 L327.50,31.75 L328.00,31.37 L328.50,31.00 L329.00,30.62 L329.50,30.25 L330.00,29.87 L330.50,29.50 L331.00,29.12 L331.50,28.75 L332.00,28.37 L332.50,27.99 L333.00,27.62 L333.50,27.24 L334.00,26.87 L334.50,26.49 L335.00,26.12 L335.50,25.74 L336.00,25.37 L336.50,24.99 L337.00,24.61 L337.50,24.24 L338.00,23.86 L338.50,23.49 L339.00,23.11 L339.50,22.74 L340.00,22.36 L340.50,21.98 L341.00,21.61 L341.50,21.23 L342.00,20.86 L342.50,20.48 L343.00,20.11 L343.50,19.73 L344.00,19.36 L344.50,18.98 L345.00,18.60 L345.50,18.23 L346.00,17.85 L346.50,17.48 L347.00,17.10 L347.50,16.73 L348.00,16.35 L348.50,15.97 L349.00,15.60 L349.50,15.22 L350.00,14.85 L350.50,14.47 L351.00,14.10 L351.50,13.72 L352.00,13.34 L352.50,12.97 L353.00,12.59 L353.50,12.22 L354.00,11.84 L354.50,11.47 L355.00,11.09 L355.50,10.71 L356.00,10.34 L356.50,9.96 L357.00,9.59 L357.50,9.21 L358.00,8.84 L358.50,8.46 L359.00,8.08 L359.50,7.71" stroke="rgb(102,102,255)" stroke-width="1.85"/>
<path d="M54.00,179.92 L54.50,179.95 L55.00,179.97 L55.50,180.00 L56.00,180.03 L56.50,180.05 L57.00,180.08 L57.50,180.11 L58.00,180.14 L58.50,180.17 L59.00,180.20 L59.50,180.23 L60.00,180.26 L60.50,180.29 L61.00,180.32 L61.50,180.35 L62.00,180.38 L62.50,180.42 L63.00,180.45 L63.50,180.48 L64.00,180.52 L64.50,180.55 L65.00,180.59 L65.50,180.63 L66.00,180.66 L66.50,180.70 L67.00,180.74 L67.50,180.78 L68.00,180.82 L68.50,180.86 L69.00,180.90 L69.50,180.94 L70.00,180.99 L70.50,181.03 L71.00,181.08 L71.50,181.12 L72.00,181.17 L72.50,181.21 L73.00,181.26 L73.50,181.31 L74.00,181.36 L74.50,181.41 L75.00,181.46 L75.50,181.51 L76.00,181.56 L76.50,181.62 L77.00,181.67 L77.50,181.73 L78.00,181.78 L78.50,181.84 L79.00,181.90 L79.50,181.96 L80.00,182.02 L80.50,182.08 L81.00,182.14 L81.50,182.21 L82.00,182.27 L82.50,182.34 L83.00,182.41 L83.50,182.47 L84.00,182.54 L84.50,182.62 L85.00,182.69 L85.50,182.76 L86.00,182.84 L86.50,182.91 L87.00,182.99 L87.50,183.07 L88.00,183.15 L88.50,183.23 L89.00,183.32 L89.50,183.40 L90.00,183.49 L90.50,183.58 L91.00,183.67 L91.50,183.76 L92.00,183.86 L92.50,183.95 L93.00,184.05 L93.50,184.15 L94.00,184.25 L94.50,184.36 L95.00,184.46 L95.50,184.57 L96.00,184.68 L96.50,184.79 L97.00,184.91 L97.50,185.02 L98.00,185.14 L98.50,185.26 L99.00,185.39 L99.50,185.51 L100.00,185.64 L100.50,185.78 L101.00,185.91 L101.50,186.05 L102.00,186.19 L102.50,186.33 L103.00,186.48 L103.50,186.63 L104.00,186.78 L104.50,186.94 L105.00,187.10 L105.50,187.26 L106.00,187.42 L106.50,187.59 L107.00,187.77 L107.50,187.95 L108.00,188.13 L108.50,188.31 L109.00,188.51 L109.50,188.70 L110.00,188.90 L110.50,189.10 L111.00,189.31 L111.50,189.53 L112.00,189.75 L112.50,189.97 L113.00,190.20 L113.50,190.44 L114.00,190.68 L114.50,190.93 L115.00,191.18 L115.50,191.44 L116.00,191.71 L116.50,191.98 L117.00,192.27 L117.50,192.56 L118.00,192.85 L118.50,193.16 L119.00,193.47 L119.50,193.80 L120.00,194.13 L120.50,194.47 L121.00,194.83 L121.50,195.19 L122.00,195.56 L122.50,195.95 L123.00,196.35 L123.50,196.76 L124.00,197.18 L124.50,197.62 L125.00,198.07 L125.50,198.54 L126.00,199.03 L126.50,199.53 L127.00,200.05 L127.50,200.59 L128.00,201.15 L128.50,201.73 L129.00,202.34 L129.50,202.97 L130.00,203.62 L130.50,204.31 L131.00,205.03 L131.50,205.77 L132.00,206.56 L132.50,207.38 L133.00,208.24 L133.50,209.15 L134.00,210.11 L134.50,211.12 L135.00,212.20 L135.50,213.33 L136.00,214.55 L136.50,215.84 L137.00,217.23 L137.50,218.73 L138.00,220.34 L138.50,222.10 L139.00,224.03 L139.50,226.15 L140.00,228.51 L140.50,231.17 L141.00,234.20 L141.50,237.71 L142.00,241.88 L142.50,247.00 L143.00,253.60 L143.50,262.86 L144.00,278.27 L144.50,333.72 L145.00,400.00 L145.50,400.00 L146.00,400.00 L146.50,400.00 L147.00,400.00 L147.50,400.00 L148.00,400.00 L148.50,400.00 L149.00,400.00 L149.50,400.00 L150.00,400.00 L150.50,400.00 L151.00,400.00 L151.50,400.00 L152.00,400.00 L152.50,400.00 L153.00,400.00 L153.50,400.00 L154.00,400.00 L154.50,400.00 L155.00,400.00 L155.50,400.00 L156.00,400.00 L156.50,400.00 L157.00,400.00 L157.50,400.00 L158.00,400.00 L158.50,400.00 L159.00,400.00 L159.50,400.00 L160.00,400.00 L160.50,400.00 L161.00,400.00 L161.50,400.00 L162.00,400.00 L162.50,400.00 L163.00,400.00 L163.50,400.00 L164.00,400.00 L164.50,400.00 L165.00,400.00 L165.50,400.00 L166.00,400.00 L166.50,400.00 L167.00,400.00 L167.50,400.00 L168.00,400.00 L168.50,400.00 L169.00,400.00 L169.50,400.00 L170.00,400.00 L170.50,400.00 L171.00,400.00 L171.50,400.00 L172.00,400.00 L172.50,400.00 L173.00,400.00 L173.50,400.00 L174.00,400.00 L174.50,400.00 L175.00,400.00 L175.50,400.00 L176.00,400.00 L176.50,400.00 L177.00,400.00 L177.50,400.00 L178.00,400.00 L178.50,400.00 L179.00,400.00 L179.50,400.00 L180.00,400.00 L180.50,400.00 L181.00,400.00 L181.50,400.00 L182.00,400.00 L182.50,400.00 L183.00,400.00 L183.50,400.00 L184.00,400.00 L184.50,400.00 L185.00,400.00 L185.50,400.00 L186.00,400.00 L186.50,400.00 L187.00,400.00 L187.50,400.00 L188.00,400.00 L188.50,400.00 L189.00,400.00 L189.50,400.00 L190.00,400.00 L190.50,400.00 L191.00,400.00 L191.50,400.00 L192.00,400.00 L192.50,400.00 L193.00,400.00 L193.50,400.00 L194.00,400.00 L194.50,400.00 L195.00,400.00 L195.50,400.00 L196.00,400.00 L196.50,400.00 L197.00,400.00 L197.50,400.00 L198.00,400.00 L198.50,400.00 L199.00,400.00 L199.50,400.00 L200.00,400.00 L200.50,400.00 L201.00,400.00 L201.50,400.00 L202.00,400.00 L202.50,400.00 L203.00,400.00 L203.50,400.00 L204.00,400.00 L204.50,400.00 L205.00,400.00 L205.50,400.00 L206.00,400.00 L206.50,400.00 L207.00,400.00 L207.50,400.00 L208.00,400.00 L208.50,400.00 L209.00,284.09 L209.50,245.17 L210.00,230.82 L210.50,221.78 L211.00,215.16 L211.50,209.93 L212.00,205.58 L212.50,201.87 L213.00,198.62 L213.50,195.74 L214.00,193.13 L214.50,190.76 L215.00,188.58 L215.50,186.56 L216.00,184.67 L216.50,182.91 L217.00,181.25 L217.50,179.68 L218.00,178.20 L218.50,176.78 L219.00,175.43 L219.50,174.14 L220.00,172.90 L220.50,171.71 L221.00,170.56 L221.50,169.45 L222.00,168.38 L222.50,167.34 L223.00,166.34 L223.50,165.36 L224.00,164.42 L224.50,163.49 L225.00,162.60 L225.50,161.72 L226.00,160.86 L226.50,160.03 L227.00,159.21 L227.50,158.41 L228.00,157.63 L228.50,156.86 L229.00,156.11 L229.50,155.37 L230.00,154.64 L230.50,153.93 L231.00,153.23 L231.50,152.54 L232.00,151.86 L232.50,151.19 L233.00,150.53 L233.50,149.88 L234.00,149.24 L234.50,148.60 L235.00,147.98 L235.50,147.36 L236.00,146.75 L236.50,146.15 L237.00,145.56 L237.50,144.97 L238.00,144.39 L238.50,143.81 L239.00,143.24 L239.50,142.68 L240.00,142.12 L240.50,141.57 L241.00,141.02 L241.50,140.48 L242.00,139.94 L242.50,139.41 L243.00,138.88 L243.50,138.35 L244.00,137.83 L244.50,137.31 L245.00,136.80 L245.50,136.29 L246.00,135.79 L246.50,135.28 L247.00,134.79 L247.50,134.29 L248.00,133.80 L248.50,133.31 L249.00,132.82 L249.50,132.34 L250.00,131.86 L250.50,131.38 L251.00,130.90 L251.50,130.43 L252.00,129.96 L252.50,129.49 L253.00,129.03 L253.50,128.56 L254.00,128.10 L254.50,127.64 L255.00,127.19 L255.50,126.73 L256.00,126.28 L256.50,125.83 L257.00,125.38 L257.50,124.93 L258.00,124.49 L258.50,124.04 L259.00,123.60 L259.50,123.16 L260.00,122.72 L260.50,122.29 L261.00,121.85 L261.50,121.42 L262.00,120.98 L262.50,120.55 L263.00,120.12 L263.50,119.69 L264.00,119.27 L264.50,118.84 L265.00,118.41 L265.50,117.99 L266.00,117.57 L266.50,117.15 L267.00,116.73 L267.50,116.31 L268.00,115.89 L268.50,115.47 L269.00,115.06 L269.50,114.64 L270.00,114.23 L270.50,113.82 L271.00,113.40 L271.50,112.99 L272.00,112.58 L272.50,112.17 L273.00,111.76 L273.50,111.36 L274.00,110.95 L274.50,110.54 L275.00,110.14 L275.50,109.73 L276.00,109.33 L276.50,108.93 L277.00,108.52 L277.50,108.12 L278.00,107.72 L278.50,107.32 L279.00,106.92 L279.50,106.52 L280.00,106.12 L280.50,105.73 L281.00,105.33 L281.50,104.93 L282.00,104.54 L282.50,104.14 L283.00,103.74 L283.50,103.35 L284.00,102.96 L284.50,102.56 L285.00,102.17 L285.50,101.78 L286.00,101.38 L286.50,100.99 L287.00,100.60 L287.50,100.21 L288.00,99.82 L288.50,99.43 L289.00,99.04 L289.50,98.65 L290.00,98.26 L290.50,97.87 L291.00,97.48 L291.50,97.09 L292.00,96.71 L292.50,96.32 L293.00,95.93 L293.50,95.55 L294.00,95.16 L294.50,94.77 L295.00,94.39 L295.50,94.00 L296.00,93.62 L296.50,93.23 L297.00,92.85 L297.50,92.46 L298.00,92.08 L298.50,91.69 L299.00,91.31 L299.50,90.93 L300.00,90.54 L300.50,90.16 L301.00,89.78 L301.50,89.40 L302.00,89.01 L302.50,88.63 L303.00,88.25 L303.50,87.87 L304.00,87.48 L304.50,87.10 L305.00,86.72 L305.50,86.34 L306.00,85.96 L306.50,85.58 L307.00,85.20 L307.50,84.82 L308.00,84.44 L308.50,84.06 L309.00,83.68 L309.50,83.30 L310.00,82.92 L310.50,82.54 L311.00,82.16 L311.50,81.78 L312.00,81.40 L312.50,81.02 L313.00,80.64 L313.50,80.26 L314.00,79.88 L314.50,79.50 L315.00,79.12 L315.50,78.74 L316.00,78.36 L316.50,77.99 L317.00,77.61 L317.50,77.23 L318.00,76.85 L318.50,76.47 L319.00,76.09 L319.50,75.72 L320.00,75.34 L320.50,74.96 L321.00,74.58 L321.50,74.20 L322.00,73.83 L322.50,73.45 L323.00,73.07 L323.50,72.69 L324.00,72.32 L324.50,71.94 L325.00,71.56 L325.50,71.18 L326.00,70.81 L326.50,70.43 L327.00,70.05 L327.50,69.67 L328.00,69.30 L328.50,68.92 L329.00,68.54 L329.50,68.17 L330.00,67.79 L330.50,67.41 L331.00,67.04 L331.50,66.66 L332.00,66.28 L332.50,65.91 L333.00,65.53 L333.50,65.15 L334.00,64.77 L334.50,64.40 L335.00,64.02 L335.50,63.64 L336.00,63.27 L336.50,62.89 L337.00,62.52 L337.50,62.14 L338.00,61.76 L338.50,61.39 L339.00,61.01 L339.50,60.63 L340.00,60.26 L340.50,59.88 L341.00,59.50 L341.50,59.13 L342.00,58.75 L342.50,58.37 L343.00,58.00 L343.50,57.62 L344.00,57.25 L344.50,56.87 L345.00,56.49 L345.50,56.12 L346.00,55.74 L346.50,55.36 L347.00,54.99 L347.50,54.61 L348.00,54.24 L348.50,53.86 L349.00,53.48 L349.50,53.11 L350.00,52.73 L350.50,52.36 L351.00,51.98 L351.50,51.60 L352.00,51.23 L352.50,50.85 L353.00,50.48 L353.50,50.10 L354.00,49.72 L354.50,49.35 L355.00,48.97 L355.50,48.60 L356.00,48.22 L356.50,47.84 L357.00,47.47 L357.50,47.09 L358.00,46.72 L358.50,46.34 L359.00,45.96 L359.50,45.59" stroke="rgb(102,102,255)" stroke-width="1.85"/>
<path d="M54.00,83.41 L54.50,83.41 L55.00,83.41 L55.50,83.41 L56.00,83.41 L56.50,83.41 L57.00,83.41 L57.50,83.41 L58.00,83.41 L58.50,83.41 L59.00,83.41 L59.50,83.41 L60.00,83.41 L60.50,83.41 L61.00,83.41 L61.50,83.41 L62.00,83.41 L62.50,83.41 L63.00,83.41 L63.50,83.41 L64.00,83.41 L64.50,83.41 L65.00,83.41 L65.50,83.41 L66.00,83.41 L66.50,83.41 L67.00,83.41 L67.50,83.41 L68.00,83.41 L68.50,83.41 L69.00,83.41 L69.50,83.41 L70.00,83.41 L70.50,83.41 L71.00,83.41 L71.50,83.41 L72.00,83.41 L72.50,83.41 L73.00,83.41 L73.50,83.41 L74.00,83.41 L74.50,83.41 L75.00,83.41 L75.50,83.41 L76.00,83.41 L76.50,83.41 L77.00,83.41 L77.50,83.41 L78.00,83.41 L78.50,83.41 L79.00,83.41 L79.50,83.41 L80.00,83.41 L80.50,83.41 L81.00,83.41 L81.50,83.41 L82.00,83.41 L82.50,83.41 L83.00,83.41 L83.50,83.41 L84.00,83.41 L84.50,83.41 L85.00,83.41 L85.50,83.41 L86.00,83.41 L86.50,83.41 L87.00,83.41 L87.50,83.41 L88.00,83.41 L88.50,83.41 L89.00,83.41 L89.50,83.41 L90.00,83.41 L90.50,83.41 L91.00,83.41 L91.50,83.41 L92.00,83.41 L92.50,83.41 L93.00,83.40 L93.50,83.40 L94.00,83.40 L94.50,83.40 L95.00,83.40 L95.50,83.40 L96.00,83.40 L96.50,83.40 L97.00,83.40 L97.50,83.40 L98.00,83.40 L98.50,83.40 L99.00,83.40 L99.50,83.40 L100.00,83.40 L100.50,83.40 L101.00,83.40 L101.50,83.40 L102.00,83.40 L102.50,83.40 L103.00,83.40 L103.50,83.40 L104.00,83.40 L104.50,83.40 L105.00,83.40 L105.50,83.40 L106.00,83.40 L106.50,83.40 L107.00,83.40 L107.50,83.40 L108.00,83.40 L108.50,83.40 L109.00,83.40 L109.50,83.40 L110.00,83.40 L110.50,83.40 L111.00,83.40 L111.50,83.40 L112.00,83.40 L112.50,83.40 L113.00,83.40 L113.50,83.40 L114.00,83.40 L114.50,83.40 L115.00,83.39 L115.50,83.39 L116.00,83.39 L116.50,83.39 L117.00,83.39 L117.50,83.39 L118.00,83.39 L118.50,83.39 L119.00,83.39 L119.50,83.39 L120.00,83.39 L120.50,83.39 L121.00,83.39 L121.50,83.39 L122.00,83.39 L122.50,83.39 L123.00,83.39 L123.50,83.39 L124.00,83.39 L124.50,83.39 L125.00,83.39 L125.50,83.39 L126.00,83.39 L126.50,83.39 L127.00,83.39 L127.50,83.38 L128.00,83.38 L128.50,83.38 L129.00,83.38 L129.50,83.38 L130.00,83.38 L130.50,83.38 L131.00,83.38 L131.50,83.38 L132.00,83.38 L132.50,83.38 L133.00,83.38 L133.50,83.38 L134.00,83.38 L134.50,83.38 L135.00,83.38 L135.50,83.38 L136.00,83.37 L136.50,83.37 L137.00,83.37 L137.50,83.37 L138.00,83.37 L138.50,83.37 L139.00,83.37 L139.50,83.37 L140.00,83.37 L140.50,83.37 L141.00,83.37 L141.50,83.37 L142.00,83.37 L142.50,83.36 L143.00,83.36 L143.50,83.36 L144.00,83.36 L144.50,83.36 L145.00,83.36 L145.50,83.36 L146.00,83.36 L146.50,83.36 L147.00,83.36 L147.50,83.35 L148.00,83.35 L148.50,83.35 L149.00,83.35 L149.50,83.35 L150.00,83.35 L150.50,83.35 L151.00,83.35 L151.50,83.34 L152.00,83.34 L152.50,83.34 L153.00,83.34 L153.50,83.34 L154.00,83.34 L154.50,83.34 L155.00,83.34 L155.50,83.33 L156.00,83.33 L156.50,83.33 L157.00,83.33 L157.50,83.33 L158.00,83.33 L158.50,83.32 L159.00,83.32 L159.50,83.32 L160.00,83.32 L160.50,83.32 L161.00,83.31 L161.50,83.31 L162.00,83.31 L162.50,83.31 L163.00,83.31 L163.50,83.30 L164.00,83.30 L164.50,83.30 L165.00,83.30 L165.50,83.30 L166.00,83.29 L166.50,83.29 L167.00,83.29 L167.50,83.29 L168.00,83.28 L168.50,83.28 L169.00,83.28 L169.50,83.28 L170.00,83.27 L170.50,83.27 L171.00,83.27 L171.50,83.26 L172.00,83.26 L172.50,83.26 L173.00,83.25 L173.50,83.25 L174.00,83.25 L174.50,83.24 L175.00,83.24 L175.50,83.24 L176.00,83.23 L176.50,83.23 L177.00,83.23 L177.50,83.22 L178.00,83.22 L178.50,83.21 L179.00,83.21 L179.50,83.20 L180.00,83.20 L180.50,83.20 L181.00,83.19 L181.50,83.19 L182.00,83.18 L182.50,83.18 L183.00,83.17 L183.50,83.17 L184.00,83.16 L184.50,83.16 L185.00,83.15 L185.50,83.14 L186.00,83.14 L186.50,83.13 L187.00,83.13 L187.50,83.12 L188.00,83.11 L188.50,83.11 L189.00,83.10 L189.50,83.09 L190.00,83.08 L190.50,83.08 L191.00,83.07 L191.50,83.06 L192.00,83.05 L192.50,83.05 L193.00,83.04 L193.50,83.03 L194.00,83.02 L194.50,83.01 L195.00,83.00 L195.50,82.99 L196.00,82.98 L196.50,82.97 L197.00,82.96 L197.50,82.95 L198.00,82.94 L198.50,82.93 L199.00,82.92 L199.50,82.91 L200.00,82.89 L200.50,82.88 L201.00,82.87 L201.50,82.86 L202.00,82.84 L202.50,82.83 L203.00,82.82 L203.50,82.80 L204.00,82.79 L204.50,82.77 L205.00,82.76 L205.50,82.74 L206.00,82.73 L206.50,82.71 L207.00,82.69 L207.50,82.67 L208.00,82.66 L208.50,82.64 L209.00,82.62 L209.50,82.60 L210.00,82.58 L210.50,82.56 L211.00,82.54 L211.50,82.52 L212.00,82.50 L212.50,82.47 L213.00,82.45 L213.50,82.43 L214.00,82.40 L214.50,82.38 L215.00,82.35 L215.50,82.33 L216.00,82.30 L216.50,82.28 L217.00,82.25 L217.50,82.22 L218.00,82.19 L218.50,82.17 L219.00,82.14 L219.50,82.11 L220.00,82.08 L220.50,82.04 L221.00,82.01 L221.50,81.98 L222.00,81.94 L222.50,81.91 L223.00,81.87 L223.50,81.83 L224.00,81.79 L224.50,81.76 L225.00,81.71 L225.50,81.67 L226.00,81.63 L226.50,81.59 L227.00,81.54 L227.50,81.49 L228.00,81.45 L228.50,81.40 L229.00,81.35 L229.50,81.30 L230.00,81.24 L230.50,81.19 L231.00,81.14 L231.50,81.08 L232.00,81.02 L232.50,80.96 L233.00,80.90 L233.50,80.84 L234.00,80.77 L234.50,80.71 L235.00,80.64 L235.50,80.57 L236.00,80.50 L236.50,80.43 L237.00,80.35 L237.50,80.27 L238.00,80.20 L238.50,80.12 L239.00,80.04 L239.50,79.95 L240.00,79.87 L240.50,79.78 L241.00,79.69 L241.50,79.60 L242.00,79.50 L242.50,79.41 L243.00,79.31 L243.50,79.21 L244.00,79.11 L244.50,79.00 L245.00,78.89 L245.50,78.79 L246.00,78.67 L246.50,78.56 L247.00,78.44 L247.50,78.32 L248.00,78.20 L248.50,78.08 L249.00,77.95 L249.50,77.82 L250.00,77.69 L250.50,77.56 L251.00,77.42 L251.50,77.28 L252.00,77.14 L252.50,77.00 L253.00,76.85 L253.50,76.70 L254.00,76.55 L254.50,76.39 L255.00,76.24 L255.50,76.08 L256.00,75.91 L256.50,75.75 L257.00,75.58 L257.50,75.40 L258.00,75.23 L258.50,75.05 L259.00,74.87 L259.50,74.69 L260.00,74.50 L260.50,74.31 L261.00,74.12 L261.50,73.93 L262.00,73.73 L262.50,73.52 L263.00,73.30 L263.50,73.08 L264.00,72.85 L264.50,72.63 L265.00,72.40 L265.50,72.17 L266.00,71.93 L266.50,71.69 L267.00,71.45 L267.50,71.21 L268.00,70.96 L268.50,70.72 L269.00,70.47 L269.50,70.21 L270.00,69.96 L270.50,69.70 L271.00,69.43 L271.50,69.17 L272.00,68.90 L272.50,68.64 L273.00,68.36 L273.50,68.09 L274.00,67.81 L274.50,67.53 L275.00,67.25 L275.50,66.97 L276.00,66.68 L276.50,66.40 L277.00,66.11 L277.50,65.81 L278.00,65.52 L278.50,65.22 L279.00,64.92 L279.50,64.62 L280.00,64.32 L280.50,64.01 L281.00,63.71 L281.50,63.40 L282.00,63.09 L282.50,62.78 L283.00,62.46 L283.50,62.14 L284.00,61.83 L284.50,61.51 L285.00,61.19 L285.50,60.88 L286.00,60.56 L286.50,60.25 L287.00,59.93 L287.50,59.62 L288.00,59.30 L288.50,58.98 L289.00,58.66 L289.50,58.34 L290.00,58.01 L290.50,57.69 L291.00,57.36 L291.50,57.03 L292.00,56.70 L292.50,56.37 L293.00,56.04 L293.50,55.71 L294.00,55.38 L294.50,55.04 L295.00,54.71 L295.50,54.37 L296.00,54.03 L296.50,53.69 L297.00,53.35 L297.50,53.01 L298.00,52.67 L298.50,52.32 L299.00,51.98 L299.50,51.64 L300.00,51.29 L300.50,50.94 L301.00,50.60 L301.50,50.25 L302.00,49.90 L302.50,49.55 L303.00,49.20 L303.50,48.85 L304.00,48.49 L304.50,48.14 L305.00,47.79 L305.50,47.44 L306.00,47.08 L306.50,46.73 L307.00,46.37 L307.50,46.01 L308.00,45.66 L308.50,45.30 L309.00,44.94 L309.50,44.58 L310.00,44.22 L310.50,43.86 L311.00,43.50 L311.50,43.14 L312.00,42.78 L312.50,42.42 L313.00,42.06 L313.50,41.70 L314.00,41.34 L314.50,40.97 L315.00,40.61 L315.50,40.25 L316.00,39.88 L316.50,39.52 L317.00,39.15 L317.50,38.79 L318.00,38.42 L318.50,38.06 L319.00,37.69 L319.50,37.33 L320.00,36.96 L320.50,36.59 L321.00,36.23 L321.50,35.86 L322.00,35.49 L322.50,35.12 L323.00,34.76 L323.50,34.39 L324.00,34.02 L324.50,33.65 L325.00,33.28 L325.50,32.91 L326.00,32.54 L326.50,32.17 L327.00,31.80 L327.50,31.43 L328.00,31.06 L328.50,30.69 L329.00,30.32 L329.50,29.95 L330.00,29.58 L330.50,29.21 L331.00,28.84 L331.50,28.47 L332.00,28.10 L332.50,27.73 L333.00,27.35 L333.50,26.98 L334.00,26.61 L334.50,26.24 L335.00,25.87 L335.50,25.50 L336.00,25.12 L336.50,24.75 L337.00,24.38 L337.50,24.01 L338.00,23.63 L338.50,23.26 L339.00,22.89 L339.50,22.51 L340.00,22.14 L340.50,21.77 L341.00,21.40 L341.50,21.02 L342.00,20.65 L342.50,20.28 L343.00,19.90 L343.50,19.53 L344.00,19.16 L344.50,18.78 L345.00,18.41 L345.50,18.03 L346.00,17.66 L346.50,17.29 L347.00,16.91 L347.50,16.54 L348.00,16.16 L348.50,15.79 L349.00,15.42 L349.50,15.04 L350.00,14.67 L350.50,14.29 L351.00,13.92 L351.50,13.54 L352.00,13.17 L352.50,12.80 L353.00,12.42 L353.50,12.05 L354.00,11.67 L354.50,11.30 L355.00,10.92 L355.50,10.55 L356.00,10.17 L356.50,9.80 L357.00,9.42 L357.50,9.05 L358.00,8.67 L358.50,8.30 L359.00,7.93 L359.50,7.55 L359.50,45.76 L359.00,46.14 L358.50,46.51 L358.00,46.88 L357.50,47.26 L357.00,47.63 L356.50,48.01 L356.00,48.38 L355.50,48.76 L355.00,49.13 L354.50,49.51 L354.00,49.88 L353.50,50.26 L353.00,50.63 L352.50,51.01 L352.00,51.38 L351.50,51.75 L351.00,52.13 L350.50,52.50 L350.00,52.88 L349.50,53.25 L349.00,53.63 L348.50,54.00 L348.00,54.37 L347.50,54.75 L347.00,55.12 L346.50,55.49 L346.00,55.87 L345.50,56.24 L345.00,56.62 L344.50,56.99 L344.00,57.36 L343.50,57.74 L343.00,58.11 L342.50,58.48 L342.00,58.86 L341.50,59.23 L341.00,59.60 L340.50,59.98 L340.00,60.35 L339.50,60.72 L339.00,61.09 L338.50,61.47 L338.00,61.84 L337.50,62.21 L337.00,62.58 L336.50,62.96 L336.00,63.33 L335.50,63.70 L335.00,64.07 L334.50,64.44 L334.00,64.82 L333.50,65.19 L333.00,65.56 L332.50,65.93 L332.00,66.30 L331.50,66.67 L331.00,67.04 L330.50,67.41 L330.00,67.78 L329.50,68.15 L329.00,68.52 L328.50,68.89 L328.00,69.26 L327.50,69.63 L327.00,70.00 L326.50,70.37 L326.00,70.74 L325.50,71.11 L325.00,71.48 L324.50,71.85 L324.00,72.22 L323.50,72.58 L323.00,72.95 L322.50,73.32 L322.00,73.69 L321.50,74.05 L321.00,74.42 L320.50,74.79 L320.00,75.15 L319.50,75.52 L319.00,75.88 L318.50,76.25 L318.00,76.61 L317.50,76.98 L317.00,77.34 L316.50,77.71 L316.00,78.07 L315.50,78.43 L315.00,78.80 L314.50,79.16 L314.00,79.52 L313.50,79.88 L313.00,80.24 L312.50,80.61 L312.00,80.97 L311.50,81.33 L311.00,81.69 L310.50,82.04 L310.00,82.40 L309.50,82.76 L309.00,83.12 L308.50,83.47 L308.00,83.83 L307.50,84.19 L307.00,84.54 L306.50,84.90 L306.00,85.25 L305.50,85.60 L305.00,85.96 L304.50,86.31 L304.00,86.66 L303.50,87.01 L303.00,87.36 L302.50,87.71 L302.00,88.06 L301.50,88.40 L301.00,88.75 L300.50,89.10 L300.00,89.44 L299.50,89.78 L299.00,90.13 L298.50,90.47 L298.00,90.81 L297.50,91.15 L297.00,91.49 L296.50,91.83 L296.00,92.17 L295.50,92.50 L295.00,92.84 L294.50,93.17 L294.00,93.50 L293.50,93.83 L293.00,94.16 L292.50,94.49 L292.00,94.82 L291.50,95.15 L291.00,95.47 L290.50,95.80 L290.00,96.12 L289.50,96.44 L289.00,96.76 L288.50,97.08 L288.00,97.39 L287.50,97.71 L287.00,98.02 L286.50,98.33 L286.00,98.64 L285.50,98.95 L285.00,99.26 L284.50,99.56 L284.00,99.86 L283.50,100.16 L283.00,100.46 L282.50,100.76 L282.00,101.06 L281.50,101.35 L281.00,101.64 L280.50,101.93 L280.00,102.22 L279.50,102.50 L279.00,102.78 L278.50,103.06 L278.00,103.34 L277.50,103.62 L277.00,103.89 L276.50,104.16 L276.00,104.43 L275.50,104.70 L275.00,104.96 L274.50,105.23 L274.00,105.49 L273.50,105.74 L273.00,106.00 L272.50,106.25 L272.00,106.50 L271.50,106.75 L271.00,106.99 L270.50,107.23 L270.00,107.47 L269.50,107.71 L269.00,107.94 L268.50,108.17 L268.00,108.40 L267.50,108.62 L267.00,108.84 L266.50,109.06 L266.00,109.28 L265.50,109.49 L265.00,109.70 L264.50,109.91 L264.00,110.12 L263.50,110.32 L263.00,110.52 L262.50,110.71 L262.00,110.91 L261.50,111.10 L261.00,111.28 L260.50,111.47 L260.00,111.65 L259.50,111.83 L259.00,112.00 L258.50,112.18 L258.00,112.35 L257.50,112.51 L257.00,112.68 L256.50,112.84 L256.00,113.00 L255.50,113.15 L255.00,113.31 L254.50,113.46 L254.00,113.60 L253.50,113.75 L253.00,113.89 L252.50,114.03 L252.00,114.16 L251.50,114.30 L251.00,114.43 L250.50,114.56 L250.00,114.68 L249.50,114.80 L249.00,114.92 L248.50,115.04 L248.00,115.16 L247.50,115.27 L247.00,115.38 L246.50,115.49 L246.00,115.59 L245.50,115.70 L245.00,115.80 L244.50,115.89 L244.00,115.99 L243.50,116.08 L243.00,116.18 L242.50,116.27 L242.00,116.35 L241.50,116.44 L241.00,116.52 L240.50,116.60 L240.00,116.68 L239.50,116.76 L239.00,116.83 L238.50,116.91 L238.00,116.98 L237.50,117.05 L237.00,117.12 L236.50,117.18 L236.00,117.25 L235.50,117.31 L235.00,117.37 L234.50,117.43 L234.00,117.49 L233.50,117.55 L233.00,117.60 L232.50,117.65 L232.00,117.71 L231.50,117.76 L231.00,117.81 L230.50,117.85 L230.00,117.90 L229.50,117.95 L229.00,117.99 L228.50,118.03 L228.00,118.08 L227.50,118.12 L227.00,118.16 L226.50,118.19 L226.00,118.23 L225.50,118.27 L225.00,118.30 L224.50,118.34 L224.00,118.37 L223.50,118.40 L223.00,118.43 L222.50,118.46 L222.00,118.49 L221.50,118.52 L221.00,118.55 L220.50,118.58 L220.00,118.60 L219.50,118.63 L219.00,118.65 L218.50,118.68 L218.00,118.70 L217.50,118.72 L217.00,118.74 L216.50,118.76 L216.00,118.78 L215.50,118.80 L215.00,118.82 L214.50,118.84 L214.00,118.86 L213.50,118.88 L213.00,118.90 L212.50,118.91 L212.00,118.93 L211.50,118.94 L211.00,118.96 L210.50,118.97 L210.00,118.99 L209.50,119.00 L209.00,119.01 L208.50,119.03 L208.00,119.04 L207.50,119.05 L207.00,119.06 L206.50,119.07 L206.00,119.09 L205.50,119.10 L205.00,119.11 L204.50,119.12 L204.00,119.13 L203.50,119.13 L203.00,119.14 L202.50,119.15 L202.00,119.16 L201.50,119.17 L201.00,119.18 L200.50,119.18 L200.00,119.19 L199.50,119.20 L199.00,119.21 L198.50,119.21 L198.00,119.22 L197.50,119.23 L197.00,119.23 L196.50,119.24 L196.00,119.24 L195.50,119.25 L195.00,119.25 L194.50,119.26 L194.00,119.26 L193.50,119.27 L193.00,119.27 L192.50,119.28 L192.00,119.28 L191.50,119.29 L191.00,119.29 L190.50,119.29 L190.00,119.30 L189.50,119.30 L189.00,119.31 L188.50,119.31 L188.00,119.31 L187.50,119.32 L187.00,119.32 L186.50,119.32 L186.00,119.32 L185.50,119.33 L185.00,119.33 L184.50,119.33 L184.00,119.33 L183.50,119.34 L183.00,119.34 L182.50,119.34 L182.00,119.34 L181.50,119.35 L181.00,119.35 L180.50,119.35 L180.00,119.35 L179.50,119.35 L179.00,119.36 L178.50,119.36 L178.00,119.36 L177.50,119.36 L177.00,119.36 L176.50,119.36 L176.00,119.36 L175.50,119.37 L175.00,119.37 L174.50,119.37 L174.00,119.37 L173.50,119.37 L173.00,119.37 L172.50,119.37 L172.00,119.37 L171.50,119.37 L171.00,119.38 L170.50,119.38 L170.00,119.38 L169.50,119.38 L169.00,119.38 L168.50,119.38 L168.00,119.38 L167.50,119.38 L167.00,119.38 L166.50,119.38 L166.00,119.38 L165.50,119.38 L165.00,119.38 L164.50,119.38 L164.00,119.39 L163.50,119.39 L163.00,119.39 L162.50,119.39 L162.00,119.39 L161.50,119.39 L161.00,119.39 L160.50,119.39 L160.00,119.39 L159.50,119.39 L159.00,119.39 L158.50,119.39 L158.00,119.39 L157.50,119.39 L157.00,119.39 L156.50,119.39 L156.00,119.39 L155.50,119.39 L155.00,119.39 L154.50,119.39 L154.00,119.39 L153.50,119.39 L153.00,119.39 L152.50,119.39 L152.00,119.39 L151.50,119.39 L151.00,119.39 L150.50,119.39 L150.00,119.39 L149.50,119.39 L149.00,119.39 L148.50,119.39 L148.00,119.39 L147.50,119.39 L147.00,119.39 L146.50,119.39 L146.00,119.39 L145.50,119.39 L145.00,119.39 L144.50,119.39 L144.00,119.39 L143.50,119.39 L143.00,119.39 L142.50,119.39 L142.00,119.39 L141.50,119.39 L141.00,119.39 L140.50,119.39 L140.00,119.39 L139.50,119.39 L139.00,119.39 L138.50,119.39 L138.00,119.39 L137.50,119.39 L137.00,119.39 L136.50,119.39 L136.00,119.39 L135.50,119.39 L135.00,119.39 L134.50,119.39 L134.00,119.39 L133.50,119.39 L133.00,119.39 L132.50,119.39 L132.00,119.39 L131.50,119.39 L131.00,119.39 L130.50,119.39 L130.00,119.39 L129.50,119.39 L129.00,119.39 L128.50,119.39 L128.00,119.39 L127.50,119.39 L127.00,119.39 L126.50,119.39 L126.00,119.39 L125.50,119.39 L125.00,119.39 L124.50,119.39 L124.00,119.39 L123.50,119.39 L123.00,119.39 L122.50,119.39 L122.00,119.39 L121.50,119.39 L121.00,119.39 L120.50,119.39 L120.00,119.39 L119.50,119.39 L119.00,119.39 L118.50,119.39 L118.00,119.39 L117.50,119.39 L117.00,119.39 L116.50,119.39 L116.00,119.39 L115.50,119.39 L115.00,119.39 L114.50,119.39 L114.00,119.39 L113.50,119.39 L113.00,119.39 L112.50,119.39 L112.00,119.39 L111.50,119.39 L111.00,119.39 L110.50,119.39 L110.00,119.39 L109.50,119.39 L109.00,119.39 L108.50,119.39 L108.00,119.39 L107.50,119.39 L107.00,119.39 L106.50,119.39 L106.00,119.39 L105.50,119.39 L105.00,119.39 L104.50,119.39 L104.00,119.39 L103.50,119.39 L103.00,119.39 L102.50,119.39 L102.00,119.39 L101.50,119.39 L101.00,119.39 L100.50,119.39 L100.00,119.39 L99.50,119.39 L99.00,119.39 L98.50,119.39 L98.00,119.39 L97.50,119.39 L97.00,119.39 L96.50,119.39 L96.00,119.39 L95.50,119.39 L95.00,119.39 L94.50,119.39 L94.00,119.39 L93.50,119.39 L93.00,119.39 L92.50,119.39 L92.00,119.39 L91.50,119.39 L91.00,119.39 L90.50,119.39 L90.00,119.39 L89.50,119.39 L89.00,119.39 L88.50,119.39 L88.00,119.39 L87.50,119.39 L87.00,119.39 L86.50,119.39 L86.00,119.39 L85.50,119.39 L85.00,119.39 L84.50,119.39 L84.00,119.39 L83.50,119.39 L83.00,119.39 L82.50,119.39 L82.00,119.39 L81.50,119.39 L81.00,119.39 L80.50,119.39 L80.00,119.39 L79.50,119.39 L79.00,119.39 L78.50,119.39 L78.00,119.39 L77.50,119.39 L77.00,119.39 L76.50,119.39 L76.00,119.39 L75.50,119.39 L75.00,119.39 L74.50,119.39 L74.00,119.39 L73.50,119.39 L73.00,119.39 L72.50,119.39 L72.00,119.39 L71.50,119.39 L71.00,119.39 L70.50,119.39 L70.00,119.39 L69.50,119.39 L69.00,119.39 L68.50,119.39 L68.00,119.39 L67.50,119.39 L67.00,119.39 L66.50,119.39 L66.00,119.39 L65.50,119.39 L65.00,119.39 L64.50,119.39 L64.00,119.39 L63.50,119.39 L63.00,119.39 L62.50,119.39 L62.00,119.39 L61.50,119.39 L61.00,119.39 L60.50,119.39 L60.00,119.39 L59.50,119.39 L59.00,119.39 L58.50,119.39 L58.00,119.39 L57.50,119.39 L57.00,119.39 L56.50,119.39 L56.00,119.39 L55.50,119.39 L55.00,119.39 L54.50,119.39 L54.00,119.39Z" fill="rgb(255,102,102)" fill-opacity="0.4" stroke="none"/>
<path d="M54.00,83.41 L54.50,83.41 L55.00,83.41 L55.50,83.41 L56.00,83.41 L56.50,83.41 L57.00,83.41 L57.50,83.41 L58.00,83.41 L58.50,83.41 L59.00,83.41 L59.50,83.41 L60.00,83.41 L60.50,83.41 L61.00,83.41 L61.50,83.41 L62.00,83.41 L62.50,83.41 L63.00,83.41 L63.50,83.41 L64.00,83.41 L64.50,83.41 L65.00,83.41 L65.50,83.41 L66.00,83.41 L66.50,83.41 L67.00,83.41 L67.50,83.41 L68.00,83.41 L68.50,83.41 L69.00,83.41 L69.50,83.41 L70.00,83.41 L70.50,83.41 L71.00,83.41 L71.50,83.41 L72.00,83.41 L72.50,83.41 L73.00,83.41 L73.50,83.41 L74.00,83.41 L74.50,83.41 L75.00,83.41 L75.50,83.41 L76.00,83.41 L76.50,83.41 L77.00,83.41 L77.50,83.41 L78.00,83.41 L78.50,83.41 L79.00,83.41 L79.50,83.41 L80.00,83.41 L80.50,83.41 L81.00,83.41 L81.50,83.41 L82.00,83.41 L82.50,83.41 L83.00,83.41 L83.50,83.41 L84.00,83.41 L84.50,83.41 L85.00,83.41 L85.50,83.41 L86.00,83.41 L86.50,83.41 L87.00,83.41 L87.50,83.41 L88.00,83.41 L88.50,83.41 L89.00,83.41 L89.50,83.41 L90.00,83.41 L90.50,83.41 L91.00,83.41 L91.50,83.41 L92.00,83.41 L92.50,83.41 L93.00,83.40 L93.50,83.40 L94.00,83.40 L94.50,83.40 L95.00,83.40 L95.50,83.40 L96.00,83.40 L96.50,83.40 L97.00,83.40 L97.50,83.40 L98.00,83.40 L98.50,83.40 L99.00,83.40 L99.50,83.40 L100.00,83.40 L100.50,83.40 L101.00,83.40 L101.50,83.40 L102.00,83.40 L102.50,83.40 L103.00,83.40 L103.50,83.40 L104.00,83.40 L104.50,83.40 L105.00,83.40 L105.50,83.40 L106.00,83.40 L106.50,83.40 L107.00,83.40 L107.50,83.40 L108.00,83.40 L108.50,83.40 L109.00,83.40 L109.50,83.40 L110.00,83.40 L110.50,83.40 L111.00,83.40 L111.50,83.40 L112.00,83.40 L112.50,83.40 L113.00,83.40 L113.50,83.40 L114.00,83.40 L114.50,83.40 L115.00,83.39 L115.50,83.39 L116.00,83.39 L116.50,83.39 L117.00,83.39 L117.50,83.39 L118.00,83.39 L118.50,83.39 L119.00,83.39 L119.50,83.39 L120.00,83.39 L120.50,83.39 L121.00,83.39 L121.50,83.39 L122.00,83.39 L122.50,83.39 L123.00,83.39 L123.50,83.39 L124.00,83.39 L124.50,83.39 L125.00,83.39 L125.50,83.39 L126.00,83.39 L126.50,83.39 L127.00,83.39 L127.50,83.38 L128.00,83.38 L128.50,83.38 L129.00,83.38 L129.50,83.38 L130.00,83.38 L130.50,83.38 L131.00,83.38 L131.50,83.38 L132.00,83.38 L132.50,83.38 L133.00,83.38 L133.50,83.38 L134.00,83.38 L134.50,83.38 L135.00,83.38 L135.50,83.38 L136.00,83.37 L136.50,83.37 L137.00,83.37 L137.50,83.37 L138.00,83.37 L138.50,83.37 L139.00,83.37 L139.50,83.37 L140.00,83.37 L140.50,83.37 L141.00,83.37 L141.50,83.37 L142.00,83.37 L142.50,83.36 L143.00,83.36 L143.50,83.36 L144.00,83.36 L144.50,83.36 L145.00,83.36 L145.50,83.36 L146.00,83.36 L146.50,83.36 L147.00,83.36 L147.50,83.35 L148.00,83.35 L148.50,83.35 L149.00,83.35 L149.50,83.35 L150.00,83.35 L150.50,83.35 L151.00,83.35 L151.50,83.34 L152.00,83.34 L152.50,83.34 L153.00,83.34 L153.50,83.34 L154.00,83.34 L154.50,83.34 L155.00,83.34 L155.50,83.33 L156.00,83.33 L156.50,83.33 L157.00,83.33 L157.50,83.33 L158.00,83.33 L158.50,83.32 L159.00,83.32 L159.50,83.32 L160.00,83.32 L160.50,83.32 L161.00,83.31 L161.50,83.31 L162.00,83.31 L162.50,83.31 L163.00,83.31 L163.50,83.30 L164.00,83.30 L164.50,83.30 L165.00,83.30 L165.50,83.30 L166.00,83.29 L166.50,83.29 L167.00,83.29 L167.50,83.29 L168.00,83.28 L168.50,83.28 L169.00,83.28 L169.50,83.28 L170.00,83.27 L170.50,83.27 L171.00,83.27 L171.50,83.26 L172.00,83.26 L172.50,83.26 L173.00,83.25 L173.50,83.25 L174.00,83.25 L174.50,83.24 L175.00,83.24 L175.50,83.24 L176.00,83.23 L176.50,83.23 L177.00,83.23 L177.50,83.22 L178.00,83.22 L178.50,83.21 L179.00,83.21 L179.50,83.20 L180.00,83.20 L180.50,83.20 L181.00,83.19 L181.50,83.19 L182.00,83.18 L182.50,83.18 L183.00,83.17 L183.50,83.17 L184.00,83.16 L184.50,83.16 L185.00,83.15 L185.50,83.14 L186.00,83.14 L186.50,83.13 L187.00,83.13 L187.50,83.12 L188.00,83.11 L188.50,83.11 L189.00,83.10 L189.50,83.09 L190.00,83.08 L190.50,83.08 L191.00,83.07 L191.50,83.06 L192.00,83.05 L192.50,83.05 L193.00,83.04 L193.50,83.03 L194.00,83.02 L194.50,83.01 L195.00,83.00 L195.50,82.99 L196.00,82.98 L196.50,82.97 L197.00,82.96 L197.50,82.95 L198.00,82.94 L198.50,82.93 L199.00,82.92 L199.50,82.91 L200.00,82.89 L200.50,82.88 L201.00,82.87 L201.50,82.86 L202.00,82.84 L202.50,82.83 L203.00,82.82 L203.50,82.80 L204.00,82.79 L204.50,82.77 L205.00,82.76 L205.50,82.74 L206.00,82.73 L206.50,82.71 L207.00,82.69 L207.50,82.67 L208.00,82.66 L208.50,82.64 L209.00,82.62 L209.50,82.60 L210.00,82.58 L210.50,82.56 L211.00,82.54 L211.50,82.52 L212.00,82.50 L212.50,82.47 L213.00,82.45 L213.50,82.43 L214.00,82.40 L214.50,82.38 L215.00,82.35 L215.50,82.33 L216.00,82.30 L216.50,82.28 L217.00,82.25 L217.50,82.22 L218.00,82.19 L218.50,82.17 L219.00,82.14 L219.50,82.11 L220.00,82.08 L220.50,82.04 L221.00,82.01 L221.50,81.98 L222.00,81.94 L222.50,81.91 L223.00,81.87 L223.50,81.83 L224.00,81.79 L224.50,81.76 L225.00,81.71 L225.50,81.67 L226.00,81.63 L226.50,81.59 L227.00,81.54 L227.50,81.49 L228.00,81.45 L228.50,81.40 L229.00,81.35 L229.50,81.30 L230.00,81.24 L230.50,81.19 L231.00,81.14 L231.50,81.08 L232.00,81.02 L232.50,80.96 L233.00,80.90 L233.50,80.84 L234.00,80.77 L234.50,80.71 L235.00,80.64 L235.50,80.57 L236.00,80.50 L236.50,80.43 L237.00,80.35 L237.50,80.27 L238.00,80.20 L238.50,80.12 L239.00,80.04 L239.50,79.95 L240.00,79.87 L240.50,79.78 L241.00,79.69 L241.50,79.60 L242.00,79.50 L242.50,79.41 L243.00,79.31 L243.50,79.21 L244.00,79.11 L244.50,79.00 L245.00,78.89 L245.50,78.79 L246.00,78.67 L246.50,78.56 L247.00,78.44 L247.50,78.32 L248.00,78.20 L248.50,78.08 L249.00,77.95 L249.50,77.82 L250.00,77.69 L250.50,77.56 L251.00,77.42 L251.50,77.28 L252.00,77.14 L252.50,77.00 L253.00,76.85 L253.50,76.70 L254.00,76.55 L254.50,76.39 L255.00,76.24 L255.50,76.08 L256.00,75.91 L256.50,75.75 L257.00,75.58 L257.50,75.40 L258.00,75.23 L258.50,75.05 L259.00,74.87 L259.50,74.69 L260.00,74.50 L260.50,74.31 L261.00,74.12 L261.50,73.93 L262.00,73.73 L262.50,73.52 L263.00,73.30 L263.50,73.08 L264.00,72.85 L264.50,72.63 L265.00,72.40 L265.50,72.17 L266.00,71.93 L266.50,71.69 L267.00,71.45 L267.50,71.21 L268.00,70.96 L268.50,70.72 L269.00,70.47 L269.50,70.21 L270.00,69.96 L270.50,69.70 L271.00,69.43 L271.50,69.17 L272.00,68.90 L272.50,68.64 L273.00,68.36 L273.50,68.09 L274.00,67.81 L274.50,67.53 L275.00,67.25 L275.50,66.97 L276.00,66.68 L276.50,66.40 L277.00,66.11 L277.50,65.81 L278.00,65.52 L278.50,65.22 L279.00,64.92 L279.50,64.62 L280.00,64.32 L280.50,64.01 L281.00,63.71 L281.50,63.40 L282.00,63.09 L282.50,62.78 L283.00,62.46 L283.50,62.14 L284.00,61.83 L284.50,61.51 L285.00,61.19 L285.50,60.88 L286.00,60.56 L286.50,60.25 L287.00,59.93 L287.50,59.62 L288.00,59.30 L288.50,58.98 L289.00,58.66 L289.50,58.34 L290.00,58.01 L290.50,57.69 L291.00,57.36 L291.50,57.03 L292.00,56.70 L292.50,56.37 L293.00,56.04 L293.50,55.71 L294.00,55.38 L294.50,55.04 L295.00,54.71 L295.50,54.37 L296.00,54.03 L296.50,53.69 L297.00,53.35 L297.50,53.01 L298.00,52.67 L298.50,52.32 L299.00,51.98 L299.50,51.64 L300.00,51.29 L300.50,50.94 L301.00,50.60 L301.50,50.25 L302.00,49.90 L302.50,49.55 L303.00,49.20 L303.50,48.85 L304.00,48.49 L304.50,48.14 L305.00,47.79 L305.50,47.44 L306.00,47.08 L306.50,46.73 L307.00,46.37 L307.50,46.01 L308.00,45.66 L308.50,45.30 L309.00,44.94 L309.50,44.58 L310.00,44.22 L310.50,43.86 L311.00,43.50 L311.50,43.14 L312.00,42.78 L312.50,42.42 L313.00,42.06 L313.50,41.70 L314.00,41.34 L314.50,40.97 L315.00,40.61 L315.50,40.25 L316.00,39.88 L316.50,39.52 L317.00,39.15 L317.50,38.79 L318.00,38.42 L318.50,38.06 L319.00,37.69 L319.50,37.33 L320.00,36.96 L320.50,36.59 L321.00,36.23 L321.50,35.86 L322.00,35.49 L322.50,35.12 L323.00,34.76 L323.50,34.39 L324.00,34.02 L324.50,33.65 L325.00,33.28 L325.50,32.91 L326.00,32.54 L326.50,32.17 L327.00,31.80 L327.50,31.43 L328.00,31.06 L328.50,30.69 L329.00,30.32 L329.50,29.95 L330.00,29.58 L330.50,29.21 L331.00,28.84 L331.50,28.47 L332.00,28.10 L332.50,27.73 L333.00,27.35 L333.50,26.98 L334.00,26.61 L334.50,26.24 L335.00,25.87 L335.50,25.50 L336.00,25.12 L336.50,24.75 L337.00,24.38 L337.50,24.01 L338.00,23.63 L338.50,23.26 L339.00,22.89 L339.50,22.51 L340.00,22.14 L340.50,21.77 L341.00,21.40 L341.50,21.02 L342.00,20.65 L342.50,20.28 L343.00,19.90 L343.50,19.53 L344.00,19.16 L344.50,18.78 L345.00,18.41 L345.50,18.03 L346.00,17.66 L346.50,17.29 L347.00,16.91 L347.50,16.54 L348.00,16.16 L348.50,15.79 L349.00,15.42 L349.50,15.04 L350.00,14.67 L350.50,14.29 L351.00,13.92 L351.50,13.54 L352.00,13.17 L352.50,12.80 L353.00,12.42 L353.50,12.05 L354.00,11.67 L354.50,11.30 L355.00,10.92 L355.50,10.55 L356.00,10.17 L356.50,9.80 L357.00,9.42 L357.50,9.05 L358.00,8.67 L358.50,8.30 L359.00,7.93 L359.50,7.55" stroke="rgb(255,102,102)" stroke-width="1.85"/>
<path d="M54.00,119.39 L54.50,119.39 L55.00,119.39 L55.50,119.39 L56.00,119.39 L56.50,119.39 L57.00,119.39 L57.50,119.39 L58.00,119.39 L58.50,119.39 L59.00,119.39 L59.50,119.39 L60.00,119.39 L60.50,119.39 L61.00,119.39 L61.50,119.39 L62.00,119.39 L62.50,119.39 L63.00,119.39 L63.50,119.39 L64.00,119.39 L64.50,119.39 L65.00,119.39 L65.50,119.39 L66.00,119.39 L66.50,119.39 L67.00,119.39 L67.50,119.39 L68.00,119.39 L68.50,119.39 L69.00,119.39 L69.50,119.39 L70.00,119.39 L70.50,119.39 L71.00,119.39 L71.50,119.39 L72.00,119.39 L72.50,119.39 L73.00,119.39 L73.50,119.39 L74.00,119.39 L74.50,119.39 L75.00,119.39 L75.50,119.39 L76.00,119.39 L76.50,119.39 L77.00,119.39 L77.50,119.39 L78.00,119.39 L78.50,119.39 L79.00,119.39 L79.50,119.39 L80.00,119.39 L80.50,119.39 L81.00,119.39 L81.50,119.39 L82.00,119.39 L82.50,119.39 L83.00,119.39 L83.50,119.39 L84.00,119.39 L84.50,119.39 L85.00,119.39 L85.50,119.39 L86.00,119.39 L86.50,119.39 L87.00,119.39 L87.50,119.39 L88.00,119.39 L88.50,119.39 L89.00,119.39 L89.50,119.39 L90.00,119.39 L90.50,119.39 L91.00,119.39 L91.50,119.39 L92.00,119.39 L92.50,119.39 L93.00,119.39 L93.50,119.39 L94.00,119.39 L94.50,119.39 L95.00,119.39 L95.50,119.39 L96.00,119.39 L96.50,119.39 L97.00,119.39 L97.50,119.39 L98.00,119.39 L98.50,119.39 L99.00,119.39 L99.50,119.39 L100.00,119.39 L100.50,119.39 L101.00,119.39 L101.50,119.39 L102.00,119.39 L102.50,119.39 L103.00,119.39 L103.50,119.39 L104.00,119.39 L104.50,119.39 L105.00,119.39 L105.50,119.39 L106.00,119.39 L106.50,119.39 L107.00,119.39 L107.50,119.39 L108.00,119.39 L108.50,119.39 L109.00,119.39 L109.50,119.39 L110.00,119.39 L110.50,119.39 L111.00,119.39 L111.50,119.39 L112.00,119.39 L112.50,119.39 L113.00,119.39 L113.50,119.39 L114.00,119.39 L114.50,119.39 L115.00,119.39 L115.50,119.39 L116.00,119.39 L116.50,119.39 L117.00,119.39 L117.50,119.39 L118.00,119.39 L118.50,119.39 L119.00,119.39 L119.50,119.39 L120.00,119.39 L120.50,119.39 L121.00,119.39 L121.50,119.39 L122.00,119.39 L122.50,119.39 L123.00,119.39 L123.50,119.39 L124.00,119.39 L124.50,119.39 L125.00,119.39 L125.50,119.39 L126.00,119.39 L126.50,119.39 L127.00,119.39 L127.50,119.39 L128.00,119.39 L128.50,119.39 L129.00,119.39 L129.50,119.39 L130.00,119.39 L130.50,119.39 L131.00,119.39 L131.50,119.39 L132.00,119.39 L132.50,119.39 L133.00,119.39 L133.50,119.39 L134.00,119.39 L134.50,119.39 L135.00,119.39 L135.50,119.39 L136.00,119.39 L136.50,119.39 L137.00,119.39 L137.50,119.39 L138.00,119.39 L138.50,119.39 L139.00,119.39 L139.50,119.39 L140.00,119.39 L140.50,119.39 L141.00,119.39 L141.50,119.39 L142.00,119.39 L142.50,119.39 L143.00,119.39 L143.50,119.39 L144.00,119.39 L144.50,119.39 L145.00,119.39 L145.50,119.39 L146.00,119.39 L146.50,119.39 L147.00,119.39 L147.50,119.39 L148.00,119.39 L148.50,119.39 L149.00,119.39 L149.50,119.39 L150.00,119.39 L150.50,119.39 L151.00,119.39 L151.50,119.39 L152.00,119.39 L152.50,119.39 L153.00,119.39 L153.50,119.39 L154.00,119.39 L154.50,119.39 L155.00,119.39 L155.50,119.39 L156.00,119.39 L156.50,119.39 L157.00,119.39 L157.50,119.39 L158.00,119.39 L158.50,119.39 L159.00,119.39 L159.50,119.39 L160.00,119.39 L160.50,119.39 L161.00,119.39 L161.50,119.39 L162.00,119.39 L162.50,119.39 L163.00,119.39 L163.50,119.39 L164.00,119.39 L164.50,119.38 L165.00,119.38 L165.50,119.38 L166.00,119.38 L166.50,119.38 L167.00,119.38 L167.50,119.38 L168.00,119.38 L168.50,119.38 L169.00,119.38 L169.50,119.38 L170.00,119.38 L170.50,119.38 L171.00,119.38 L171.50,119.37 L172.00,119.37 L172.50,119.37 L173.00,119.37 L173.50,119.37 L174.00,119.37 L174.50,119.37 L175.00,119.37 L175.50,119.37 L176.00,119.36 L176.50,119.36 L177.00,119.36 L177.50,119.36 L178.00,119.36 L178.50,119.36 L179.00,119.36 L179.50,119.35 L180.00,119.35 L180.50,119.35 L181.00,119.35 L181.50,119.35 L182.00,119.34 L182.50,119.34 L183.00,119.34 L183.50,119.34 L184.00,119.33 L184.50,119.33 L185.00,119.33 L185.50,119.33 L186.00,119.32 L186.50,119.32 L187.00,119.32 L187.50,119.32 L188.00,119.31 L188.50,119.31 L189.00,119.31 L189.50,119.30 L190.00,119.30 L190.50,119.29 L191.00,119.29 L191.50,119.29 L192.00,119.28 L192.50,119.28 L193.00,119.27 L193.50,119.27 L194.00,119.26 L194.50,119.26 L195.00,119.25 L195.50,119.25 L196.00,119.24 L196.50,119.24 L197.00,119.23 L197.50,119.23 L198.00,119.22 L198.50,119.21 L199.00,119.21 L199.50,119.20 L200.00,119.19 L200.50,119.18 L201.00,119.18 L201.50,119.17 L202.00,119.16 L202.50,119.15 L203.00,119.14 L203.50,119.13 L204.00,119.13 L204.50,119.12 L205.00,119.11 L205.50,119.10 L206.00,119.09 L206.50,119.07 L207.00,119.06 L207.50,119.05 L208.00,119.04 L208.50,119.03 L209.00,119.01 L209.50,119.00 L210.00,118.99 L210.50,118.97 L211.00,118.96 L211.50,118.94 L212.00,118.93 L212.50,118.91 L213.00,118.90 L213.50,118.88 L214.00,118.86 L214.50,118.84 L215.00,118.82 L215.50,118.80 L216.00,118.78 L216.50,118.76 L217.00,118.74 L217.50,118.72 L218.00,118.70 L218.50,118.68 L219.00,118.65 L219.50,118.63 L220.00,118.60 L220.50,118.58 L221.00,118.55 L221.50,118.52 L222.00,118.49 L222.50,118.46 L223.00,118.43 L223.50,118.40 L224.00,118.37 L224.50,118.34 L225.00,118.30 L225.50,118.27 L226.00,118.23 L226.50,118.19 L227.00,118.16 L227.50,118.12 L228.00,118.08 L228.50,118.03 L229.00,117.99 L229.50,117.95 L230.00,117.90 L230.50,117.85 L231.00,117.81 L231.50,117.76 L232.00,117.71 L232.50,117.65 L233.00,117.60 L233.50,117.55 L234.00,117.49 L234.50,117.43 L235.00,117.37 L235.50,117.31 L236.00,117.25 L236.50,117.18 L237.00,117.12 L237.50,117.05 L238.00,116.98 L238.50,116.91 L239.00,116.83 L239.50,116.76 L240.00,116.68 L240.50,116.60 L241.00,116.52 L241.50,116.44 L242.00,116.35 L242.50,116.27 L243.00,116.18 L243.50,116.08 L244.00,115.99 L244.50,115.89 L245.00,115.80 L245.50,115.70 L246.00,115.59 L246.50,115.49 L247.00,115.38 L247.50,115.27 L248.00,115.16 L248.50,115.04 L249.00,114.92 L249.50,114.80 L250.00,114.68 L250.50,114.56 L251.00,114.43 L251.50,114.30 L252.00,114.16 L252.50,114.03 L253.00,113.89 L253.50,113.75 L254.00,113.60 L254.50,113.46 L255.00,113.31 L255.50,113.15 L256.00,113.00 L256.50,112.84 L257.00,112.68 L257.50,112.51 L258.00,112.35 L258.50,112.18 L259.00,112.00 L259.50,111.83 L260.00,111.65 L260.50,111.47 L261.00,111.28 L261.50,111.10 L262.00,110.91 L262.50,110.71 L263.00,110.52 L263.50,110.32 L264.00,110.12 L264.50,109.91 L265.00,109.70 L265.50,109.49 L266.00,109.28 L266.50,109.06 L267.00,108.84 L267.50,108.62 L268.00,108.40 L268.50,108.17 L269.00,107.94 L269.50,107.71 L270.00,107.47 L270.50,107.23 L271.00,106.99 L271.50,106.75 L272.00,106.50 L272.50,106.25 L273.00,106.00 L273.50,105.74 L274.00,105.49 L274.50,105.23 L275.00,104.96 L275.50,104.70 L276.00,104.43 L276.50,104.16 L277.00,103.89 L277.50,103.62 L278.00,103.34 L278.50,103.06 L279.00,102.78 L279.50,102.50 L280.00,102.22 L280.50,101.93 L281.00,101.64 L281.50,101.35 L282.00,101.06 L282.50,100.76 L283.00,100.46 L283.50,100.16 L284.00,99.86 L284.50,99.56 L285.00,99.26 L285.50,98.95 L286.00,98.64 L286.50,98.33 L287.00,98.02 L287.50,97.71 L288.00,97.39 L288.50,97.08 L289.00,96.76 L289.50,96.44 L290.00,96.12 L290.50,95.80 L291.00,95.47 L291.50,95.15 L292.00,94.82 L292.50,94.49 L293.00,94.16 L293.50,93.83 L294.00,93.50 L294.50,93.17 L295.00,92.84 L295.50,92.50 L296.00,92.17 L296.50,91.83 L297.00,91.49 L297.50,91.15 L298.00,90.81 L298.50,90.47 L299.00,90.13 L299.50,89.78 L300.00,89.44 L300.50,89.10 L301.00,88.75 L301.50,88.40 L302.00,88.06 L302.50,87.71 L303.00,87.36 L303.50,87.01 L304.00,86.66 L304.50,86.31 L305.00,85.96 L305.50,85.60 L306.00,85.25 L306.50,84.90 L307.00,84.54 L307.50,84.19 L308.00,83.83 L308.50,83.47 L309.00,83.12 L309.50,82.76 L310.00,82.40 L310.50,82.04 L311.00,81.69 L311.50,81.33 L312.00,80.97 L312.50,80.61 L313.00,80.24 L313.50,79.88 L314.00,79.52 L314.50,79.16 L315.00,78.80 L315.50,78.43 L316.00,78.07 L316.50,77.71 L317.00,77.34 L317.50,76.98 L318.00,76.61 L318.50,76.25 L319.00,75.88 L319.50,75.52 L320.00,75.15 L320.50,74.79 L321.00,74.42 L321.50,74.05 L322.00,73.69 L322.50,73.32 L323.00,72.95 L323.50,72.58 L324.00,72.22 L324.50,71.85 L325.00,71.48 L325.50,71.11 L326.00,70.74 L326.50,70.37 L327.00,70.00 L327.50,69.63 L328.00,69.26 L328.50,68.89 L329.00,68.52 L329.50,68.15 L330.00,67.78 L330.50,67.41 L331.00,67.04 L331.50,66.67 L332.00,66.30 L332.50,65.93 L333.00,65.56 L333.50,65.19 L334.00,64.82 L334.50,64.44 L335.00,64.07 L335.50,63.70 L336.00,63.33 L336.50,62.96 L337.00,62.58 L337.50,62.21 L338.00,61.84 L338.50,61.47 L339.00,61.09 L339.50,60.72 L340.00,60.35 L340.50,59.98 L341.00,59.60 L341.50,59.23 L342.00,58.86 L342.50,58.48 L343.00,58.11 L343.50,57.74 L344.00,57.36 L344.50,56.99 L345.00,56.62 L345.50,56.24 L346.00,55.87 L346.50,55.49 L347.00,55.12 L347.50,54.75 L348.00,54.37 L348.50,54.00 L349.00,53.63 L349.50,53.25 L350.00,52.88 L350.50,52.50 L351.00,52.13 L351.50,51.75 L352.00,51.38 L352.50,51.01 L353.00,50.63 L353.50,50.26 L354.00,49.88 L354.50,49.51 L355.00,49.13 L355.50,48.76 L356.00,48.38 L356.50,48.01 L357.00,47.63 L357.50,47.26 L358.00,46.88 L358.50,46.51 L359.00,46.14 L359.50,45.76" stroke="rgb(255,102,102)" stroke-width="1.85"/>
<path d="M54.00,147.91 L54.50,147.90 L55.00,147.90 L55.50,147.89 L56.00,147.89 L56.50,147.88 L57.00,147.88 L57.50,147.87 L58.00,147.87 L58.50,147.86 L59.00,147.86 L59.50,147.85 L60.00,147.84 L60.50,147.84 L61.00,147.83 L61.50,147.83 L62.00,147.82 L62.50,147.81 L63.00,147.81 L63.50,147.80 L64.00,147.79 L64.50,147.79 L65.00,147.78 L65.50,147.77 L66.00,147.77 L66.50,147.76 L67.00,147.75 L67.50,147.75 L68.00,147.74 L68.50,147.73 L69.00,147.72 L69.50,147.71 L70.00,147.71 L70.50,147.70 L71.00,147.69 L71.50,147.68 L72.00,147.67 L72.50,147.67 L73.00,147.66 L73.50,147.65 L74.00,147.64 L74.50,147.63 L75.00,147.62 L75.50,147.61 L76.00,147.60 L76.50,147.59 L77.00,147.58 L77.50,147.57 L78.00,147.56 L78.50,147.55 L79.00,147.54 L79.50,147.53 L80.00,147.52 L80.50,147.51 L81.00,147.50 L81.50,147.49 L82.00,147.48 L82.50,147.47 L83.00,147.45 L83.50,147.44 L84.00,147.43 L84.50,147.42 L85.00,147.41 L85.50,147.39 L86.00,147.38 L86.50,147.37 L87.00,147.35 L87.50,147.34 L88.00,147.33 L88.50,147.31 L89.00,147.30 L89.50,147.28 L90.00,147.27 L90.50,147.25 L91.00,147.24 L91.50,147.22 L92.00,147.21 L92.50,147.19 L93.00,147.18 L93.50,147.16 L94.00,147.15 L94.50,147.13 L95.00,147.11 L95.50,147.09 L96.00,147.08 L96.50,147.06 L97.00,147.04 L97.50,147.02 L98.00,147.01 L98.50,146.99 L99.00,146.97 L99.50,146.95 L100.00,146.93 L100.50,146.91 L101.00,146.89 L101.50,146.87 L102.00,146.85 L102.50,146.83 L103.00,146.80 L103.50,146.78 L104.00,146.76 L104.50,146.74 L105.00,146.72 L105.50,146.69 L106.00,146.67 L106.50,146.65 L107.00,146.62 L107.50,146.60 L108.00,146.57 L108.50,146.55 L109.00,146.52 L109.50,146.49 L110.00,146.47 L110.50,146.44 L111.00,146.41 L111.50,146.39 L112.00,146.36 L112.50,146.33 L113.00,146.30 L113.50,146.27 L114.00,146.24 L114.50,146.21 L115.00,146.18 L115.50,146.15 L116.00,146.12 L116.50,146.09 L117.00,146.05 L117.50,146.02 L118.00,145.99 L118.50,145.95 L119.00,145.92 L119.50,145.88 L120.00,145.85 L120.50,145.81 L121.00,145.78 L121.50,145.74 L122.00,145.70 L122.50,145.66 L123.00,145.62 L123.50,145.58 L124.00,145.54 L124.50,145.50 L125.00,145.46 L125.50,145.42 L126.00,145.38 L126.50,145.33 L127.00,145.29 L127.50,145.25 L128.00,145.20 L128.50,145.16 L129.00,145.11 L129.50,145.06 L130.00,145.02 L130.50,144.97 L131.00,144.92 L131.50,144.87 L132.00,144.82 L132.50,144.77 L133.00,144.72 L133.50,144.66 L134.00,144.61 L134.50,144.55 L135.00,144.50 L135.50,144.44 L136.00,144.39 L136.50,144.33 L137.00,144.27 L137.50,144.21 L138.00,144.15 L138.50,144.09 L139.00,144.03 L139.50,143.97 L140.00,143.90 L140.50,143.84 L141.00,143.77 L141.50,143.71 L142.00,143.64 L142.50,143.57 L143.00,143.50 L143.50,143.43 L144.00,143.36 L144.50,143.29 L145.00,143.22 L145.50,143.14 L146.00,143.07 L146.50,142.99 L147.00,142.92 L147.50,142.84 L148.00,142.76 L148.50,142.68 L149.00,142.60 L149.50,142.51 L150.00,142.43 L150.50,142.35 L151.00,142.26 L151.50,142.17 L152.00,142.08 L152.50,141.99 L153.00,141.90 L153.50,141.81 L154.00,141.72 L154.50,141.62 L155.00,141.53 L155.50,141.43 L156.00,141.33 L156.50,141.23 L157.00,141.13 L157.50,141.03 L158.00,140.92 L158.50,140.82 L159.00,140.71 L159.50,140.60 L160.00,140.49 L160.50,140.38 L161.00,140.27 L161.50,140.16 L162.00,140.04 L162.50,139.92 L163.00,139.80 L163.50,139.68 L164.00,139.56 L164.50,139.44 L165.00,139.32 L165.50,139.19 L166.00,139.06 L166.50,138.93 L167.00,138.80 L167.50,138.67 L168.00,138.53 L168.50,138.40 L169.00,138.26 L169.50,138.12 L170.00,137.98 L170.50,137.83 L171.00,137.69 L171.50,137.54 L172.00,137.39 L172.50,137.24 L173.00,137.09 L173.50,136.94 L174.00,136.78 L174.50,136.62 L175.00,136.46 L175.50,136.30 L176.00,136.14 L176.50,135.97 L177.00,135.80 L177.50,135.63 L178.00,135.46 L178.50,135.29 L179.00,135.11 L179.50,134.94 L180.00,134.76 L180.50,134.57 L181.00,134.39 L181.50,134.20 L182.00,134.02 L182.50,133.83 L183.00,133.63 L183.50,133.44 L184.00,133.24 L184.50,133.04 L185.00,132.84 L185.50,132.64 L186.00,132.44 L186.50,132.23 L187.00,132.02 L187.50,131.81 L188.00,131.59 L188.50,131.38 L189.00,131.16 L189.50,130.94 L190.00,130.72 L190.50,130.49 L191.00,130.26 L191.50,130.03 L192.00,129.80 L192.50,129.57 L193.00,129.33 L193.50,129.09 L194.00,128.85 L194.50,128.61 L195.00,128.36 L195.50,128.11 L196.00,127.86 L196.50,127.61 L197.00,127.36 L197.50,127.10 L198.00,126.84 L198.50,126.58 L199.00,126.31 L199.50,126.05 L200.00,125.78 L200.50,125.51 L201.00,125.24 L201.50,124.96 L202.00,124.68 L202.50,124.40 L203.00,124.12 L203.50,123.84 L204.00,123.55 L204.50,123.26 L205.00,122.97 L205.50,122.68 L206.00,122.38 L206.50,122.09 L207.00,121.79 L207.50,121.48 L208.00,121.18 L208.50,120.88 L209.00,120.57 L209.50,120.26 L210.00,119.95 L210.50,119.63 L211.00,119.32 L211.50,119.00 L212.00,118.68 L212.50,118.36 L213.00,118.03 L213.50,117.71 L214.00,117.38 L214.50,117.05 L215.00,116.72 L215.50,116.39 L216.00,116.06 L216.50,115.72 L217.00,115.38 L217.50,115.04 L218.00,114.70 L218.50,114.36 L219.00,114.02 L219.50,113.67 L220.00,113.33 L220.50,112.98 L221.00,112.63 L221.50,112.28 L222.00,111.92 L222.50,111.57 L223.00,111.22 L223.50,110.86 L224.00,110.50 L224.50,110.14 L225.00,109.78 L225.50,109.42 L226.00,109.06 L226.50,108.70 L227.00,108.33 L227.50,107.97 L228.00,107.60 L228.50,107.23 L229.00,106.87 L229.50,106.50 L230.00,106.13 L230.50,105.76 L231.00,105.39 L231.50,105.02 L232.00,104.64 L232.50,104.27 L233.00,103.90 L233.50,103.52 L234.00,103.15 L234.50,102.77 L235.00,102.39 L235.50,102.02 L236.00,101.64 L236.50,101.26 L237.00,100.88 L237.50,100.51 L238.00,100.13 L238.50,99.75 L239.00,99.37 L239.50,98.99 L240.00,98.61 L240.50,98.23 L241.00,97.85 L241.50,97.47 L242.00,97.08 L242.50,96.70 L243.00,96.32 L243.50,95.94 L244.00,95.56 L244.50,95.18 L245.00,94.79 L245.50,94.41 L246.00,94.03 L246.50,93.65 L247.00,93.26 L247.50,92.88 L248.00,92.50 L248.50,92.11 L249.00,91.73 L249.50,91.35 L250.00,90.97 L250.50,90.58 L251.00,90.20 L251.50,89.82 L252.00,89.43 L252.50,89.05 L253.00,88.67 L253.50,88.29 L254.00,87.90 L254.50,87.52 L255.00,87.14 L255.50,86.76 L256.00,86.37 L256.50,85.99 L257.00,85.61 L257.50,85.23 L258.00,84.84 L258.50,84.46 L259.00,84.08 L259.50,83.70 L260.00,83.32 L260.50,82.94 L261.00,82.55 L261.50,82.17 L262.00,81.79 L262.50,81.41 L263.00,81.03 L263.50,80.65 L264.00,80.27 L264.50,79.89 L265.00,79.50 L265.50,79.12 L266.00,78.74 L266.50,78.36 L267.00,77.98 L267.50,77.60 L268.00,77.22 L268.50,76.84 L269.00,76.46 L269.50,76.08 L270.00,75.70 L270.50,75.32 L271.00,74.94 L271.50,74.56 L272.00,74.18 L272.50,73.80 L273.00,73.43 L273.50,73.05 L274.00,72.67 L274.50,72.29 L275.00,71.91 L275.50,71.53 L276.00,71.15 L276.50,70.77 L277.00,70.39 L277.50,70.02 L278.00,69.64 L278.50,69.26 L279.00,68.88 L279.50,68.50 L280.00,68.12 L280.50,67.75 L281.00,67.37 L281.50,66.99 L282.00,66.61 L282.50,66.23 L283.00,65.86 L283.50,65.48 L284.00,65.10 L284.50,64.72 L285.00,64.34 L285.50,63.97 L286.00,63.59 L286.50,63.21 L287.00,62.83 L287.50,62.46 L288.00,62.08 L288.50,61.70 L289.00,61.33 L289.50,60.95 L290.00,60.57 L290.50,60.19 L291.00,59.82 L291.50,59.44 L292.00,59.06 L292.50,58.69 L293.00,58.31 L293.50,57.93 L294.00,57.55 L294.50,57.18 L295.00,56.80 L295.50,56.42 L296.00,56.05 L296.50,55.67 L297.00,55.29 L297.50,54.92 L298.00,54.54 L298.50,54.16 L299.00,53.79 L299.50,53.41 L300.00,53.03 L300.50,52.66 L301.00,52.28 L301.50,51.91 L302.00,51.53 L302.50,51.15 L303.00,50.78 L303.50,50.40 L304.00,50.02 L304.50,49.65 L305.00,49.27 L305.50,48.89 L306.00,48.52 L306.50,48.14 L307.00,47.77 L307.50,47.39 L308.00,47.01 L308.50,46.64 L309.00,46.26 L309.50,45.88 L310.00,45.51 L310.50,45.13 L311.00,44.76 L311.50,44.38 L312.00,44.00 L312.50,43.63 L313.00,43.25 L313.50,42.88 L314.00,42.50 L314.50,42.12 L315.00,41.75 L315.50,41.37 L316.00,41.00 L316.50,40.62 L317.00,40.24 L317.50,39.87 L318.00,39.49 L318.50,39.12 L319.00,38.74 L319.50,38.36 L320.00,37.99 L320.50,37.61 L321.00,37.24 L321.50,36.86 L322.00,36.48 L322.50,36.11 L323.00,35.73 L323.50,35.36 L324.00,34.98 L324.50,34.60 L325.00,34.23 L325.50,33.85 L326.00,33.48 L326.50,33.10 L327.00,32.72 L327.50,32.35 L328.00,31.97 L328.50,31.60 L329.00,31.22 L329.50,30.85 L330.00,30.47 L330.50,30.09 L331.00,29.72 L331.50,29.34 L332.00,28.97 L332.50,28.59 L333.00,28.21 L333.50,27.84 L334.00,27.46 L334.50,27.09 L335.00,26.71 L335.50,26.34 L336.00,25.96 L336.50,25.58 L337.00,25.21 L337.50,24.83 L338.00,24.46 L338.50,24.08 L339.00,23.71 L339.50,23.33 L340.00,22.95 L340.50,22.58 L341.00,22.20 L341.50,21.83 L342.00,21.45 L342.50,21.07 L343.00,20.70 L343.50,20.32 L344.00,19.95 L344.50,19.57 L345.00,19.20 L345.50,18.82 L346.00,18.44 L346.50,18.07 L347.00,17.69 L347.50,17.32 L348.00,16.94 L348.50,16.57 L349.00,16.19 L349.50,15.81 L350.00,15.44 L350.50,15.06 L351.00,14.69 L351.50,14.31 L352.00,13.94 L352.50,13.56 L353.00,13.18 L353.50,12.81 L354.00,12.43 L354.50,12.06 L355.00,11.68 L355.50,11.31 L356.00,10.93 L356.50,10.55 L357.00,10.18 L357.50,9.80 L358.00,9.43 L358.50,9.05 L359.00,8.67 L359.50,8.30 L359.50,8.92 L359.00,9.30 L358.50,9.67 L358.00,10.05 L357.50,10.43 L357.00,10.80 L356.50,11.18 L356.00,11.55 L355.50,11.93 L355.00,12.30 L354.50,12.68 L354.00,13.06 L353.50,13.43 L353.00,13.81 L352.50,14.18 L352.00,14.56 L351.50,14.93 L351.00,15.31 L350.50,15.69 L350.00,16.06 L349.50,16.44 L349.00,16.81 L348.50,17.19 L348.00,17.57 L347.50,17.94 L347.00,18.32 L346.50,18.69 L346.00,19.07 L345.50,19.44 L345.00,19.82 L344.50,20.20 L344.00,20.57 L343.50,20.95 L343.00,21.32 L342.50,21.70 L342.00,22.08 L341.50,22.45 L341.00,22.83 L340.50,23.20 L340.00,23.58 L339.50,23.95 L339.00,24.33 L338.50,24.71 L338.00,25.08 L337.50,25.46 L337.00,25.83 L336.50,26.21 L336.00,26.59 L335.50,26.96 L335.00,27.34 L334.50,27.71 L334.00,28.09 L333.50,28.46 L333.00,28.84 L332.50,29.22 L332.00,29.59 L331.50,29.97 L331.00,30.34 L330.50,30.72 L330.00,31.10 L329.50,31.47 L329.00,31.85 L328.50,32.22 L328.00,32.60 L327.50,32.98 L327.00,33.35 L326.50,33.73 L326.00,34.10 L325.50,34.48 L325.00,34.86 L324.50,35.23 L324.00,35.61 L323.50,35.98 L323.00,36.36 L322.50,36.74 L322.00,37.11 L321.50,37.49 L321.00,37.87 L320.50,38.24 L320.00,38.62 L319.50,38.99 L319.00,39.37 L318.50,39.75 L318.00,40.12 L317.50,40.50 L317.00,40.87 L316.50,41.25 L316.00,41.63 L315.50,42.00 L315.00,42.38 L314.50,42.76 L314.00,43.13 L313.50,43.51 L313.00,43.89 L312.50,44.26 L312.00,44.64 L311.50,45.01 L311.00,45.39 L310.50,45.77 L310.00,46.14 L309.50,46.52 L309.00,46.90 L308.50,47.27 L308.00,47.65 L307.50,48.03 L307.00,48.40 L306.50,48.78 L306.00,49.16 L305.50,49.53 L305.00,49.91 L304.50,50.29 L304.00,50.66 L303.50,51.04 L303.00,51.42 L302.50,51.79 L302.00,52.17 L301.50,52.55 L301.00,52.93 L300.50,53.30 L300.00,53.68 L299.50,54.06 L299.00,54.43 L298.50,54.81 L298.00,55.19 L297.50,55.57 L297.00,55.94 L296.50,56.32 L296.00,56.70 L295.50,57.08 L295.00,57.45 L294.50,57.83 L294.00,58.21 L293.50,58.59 L293.00,58.96 L292.50,59.34 L292.00,59.72 L291.50,60.10 L291.00,60.47 L290.50,60.85 L290.00,61.23 L289.50,61.61 L289.00,61.99 L288.50,62.36 L288.00,62.74 L287.50,63.12 L287.00,63.50 L286.50,63.88 L286.00,64.26 L285.50,64.64 L285.00,65.01 L284.50,65.39 L284.00,65.77 L283.50,66.15 L283.00,66.53 L282.50,66.91 L282.00,67.29 L281.50,67.67 L281.00,68.05 L280.50,68.42 L280.00,68.80 L279.50,69.18 L279.00,69.56 L278.50,69.94 L278.00,70.32 L277.50,70.70 L277.00,71.08 L276.50,71.46 L276.00,71.84 L275.50,72.22 L275.00,72.60 L274.50,72.98 L274.00,73.36 L273.50,73.74 L273.00,74.12 L272.50,74.50 L272.00,74.89 L271.50,75.27 L271.00,75.65 L270.50,76.03 L270.00,76.41 L269.50,76.79 L269.00,77.17 L268.50,77.55 L268.00,77.93 L267.50,78.32 L267.00,78.70 L266.50,79.08 L266.00,79.46 L265.50,79.84 L265.00,80.22 L264.50,80.61 L264.00,80.99 L263.50,81.37 L263.00,81.75 L262.50,82.13 L262.00,82.52 L261.50,82.90 L261.00,83.28 L260.50,83.66 L260.00,84.05 L259.50,84.43 L259.00,84.81 L258.50,85.20 L258.00,85.58 L257.50,85.96 L257.00,86.34 L256.50,86.73 L256.00,87.11 L255.50,87.49 L255.00,87.88 L254.50,88.26 L254.00,88.64 L253.50,89.03 L253.00,89.41 L252.50,89.79 L252.00,90.18 L251.50,90.56 L251.00,90.94 L250.50,91.33 L250.00,91.71 L249.50,92.10 L249.00,92.48 L248.50,92.86 L248.00,93.25 L247.50,93.63 L247.00,94.01 L246.50,94.40 L246.00,94.78 L245.50,95.16 L245.00,95.55 L244.50,95.93 L244.00,96.31 L243.50,96.70 L243.00,97.08 L242.50,97.46 L242.00,97.85 L241.50,98.23 L241.00,98.61 L240.50,98.99 L240.00,99.38 L239.50,99.76 L239.00,100.14 L238.50,100.52 L238.00,100.91 L237.50,101.29 L237.00,101.67 L236.50,102.05 L236.00,102.43 L235.50,102.81 L235.00,103.19 L234.50,103.57 L234.00,103.95 L233.50,104.33 L233.00,104.71 L232.50,105.09 L232.00,105.47 L231.50,105.85 L231.00,106.22 L230.50,106.60 L230.00,106.98 L229.50,107.36 L229.00,107.73 L228.50,108.11 L228.00,108.48 L227.50,108.86 L227.00,109.23 L226.50,109.61 L226.00,109.98 L225.50,110.35 L225.00,110.72 L224.50,111.10 L224.00,111.47 L223.50,111.84 L223.00,112.21 L222.50,112.57 L222.00,112.94 L221.50,113.31 L221.00,113.68 L220.50,114.04 L220.00,114.41 L219.50,114.77 L219.00,115.13 L218.50,115.49 L218.00,115.86 L217.50,116.22 L217.00,116.58 L216.50,116.93 L216.00,117.29 L215.50,117.65 L215.00,118.00 L214.50,118.36 L214.00,118.71 L213.50,119.06 L213.00,119.41 L212.50,119.76 L212.00,120.11 L211.50,120.45 L211.00,120.80 L210.50,121.14 L210.00,121.48 L209.50,121.82 L209.00,122.16 L208.50,122.50 L208.00,122.84 L207.50,123.17 L207.00,123.51 L206.50,123.84 L206.00,124.17 L205.50,124.50 L205.00,124.83 L204.50,125.15 L204.00,125.47 L203.50,125.80 L203.00,126.12 L202.50,126.44 L202.00,126.75 L201.50,127.07 L201.00,127.38 L200.50,127.69 L200.00,128.00 L199.50,128.31 L199.00,128.61 L198.50,128.92 L198.00,129.22 L197.50,129.52 L197.00,129.82 L196.50,130.11 L196.00,130.41 L195.50,130.70 L195.00,130.99 L194.50,131.27 L194.00,131.56 L193.50,131.84 L193.00,132.12 L192.50,132.40 L192.00,132.68 L191.50,132.95 L191.00,133.23 L190.50,133.50 L190.00,133.76 L189.50,134.03 L189.00,134.29 L188.50,134.55 L188.00,134.81 L187.50,135.07 L187.00,135.33 L186.50,135.58 L186.00,135.83 L185.50,136.08 L185.00,136.32 L184.50,136.57 L184.00,136.81 L183.50,137.05 L183.00,137.28 L182.50,137.52 L182.00,137.75 L181.50,137.98 L181.00,138.21 L180.50,138.44 L180.00,138.66 L179.50,138.88 L179.00,139.10 L178.50,139.32 L178.00,139.53 L177.50,139.74 L177.00,139.95 L176.50,140.16 L176.00,140.37 L175.50,140.57 L175.00,140.77 L174.50,140.97 L174.00,141.17 L173.50,141.37 L173.00,141.56 L172.50,141.75 L172.00,141.94 L171.50,142.13 L171.00,142.31 L170.50,142.49 L170.00,142.67 L169.50,142.85 L169.00,143.03 L168.50,143.20 L168.00,143.38 L167.50,143.55 L167.00,143.72 L166.50,143.88 L166.00,144.05 L165.50,144.21 L165.00,144.37 L164.50,144.53 L164.00,144.69 L163.50,144.84 L163.00,145.00 L162.50,145.15 L162.00,145.30 L161.50,145.44 L161.00,145.59 L160.50,145.74 L160.00,145.88 L159.50,146.02 L159.00,146.16 L158.50,146.29 L158.00,146.43 L157.50,146.56 L157.00,146.70 L156.50,146.83 L156.00,146.96 L155.50,147.08 L155.00,147.21 L154.50,147.33 L154.00,147.46 L153.50,147.58 L153.00,147.70 L152.50,147.81 L152.00,147.93 L151.50,148.04 L151.00,148.16 L150.50,148.27 L150.00,148.38 L149.50,148.49 L149.00,148.60 L148.50,148.70 L148.00,148.81 L147.50,148.91 L147.00,149.01 L146.50,149.11 L146.00,149.21 L145.50,149.31 L145.00,149.41 L144.50,149.50 L144.00,149.60 L143.50,149.69 L143.00,149.78 L142.50,149.87 L142.00,149.96 L141.50,150.05 L141.00,150.14 L140.50,150.22 L140.00,150.30 L139.50,150.39 L139.00,150.47 L138.50,150.55 L138.00,150.63 L137.50,150.71 L137.00,150.79 L136.50,150.86 L136.00,150.94 L135.50,151.01 L135.00,151.09 L134.50,151.16 L134.00,151.23 L133.50,151.30 L133.00,151.37 L132.50,151.44 L132.00,151.51 L131.50,151.57 L131.00,151.64 L130.50,151.70 L130.00,151.77 L129.50,151.83 L129.00,151.89 L128.50,151.95 L128.00,152.01 L127.50,152.07 L127.00,152.13 L126.50,152.19 L126.00,152.25 L125.50,152.30 L125.00,152.36 L124.50,152.41 L124.00,152.47 L123.50,152.52 L123.00,152.57 L122.50,152.62 L122.00,152.67 L121.50,152.72 L121.00,152.77 L120.50,152.82 L120.00,152.87 L119.50,152.92 L119.00,152.96 L118.50,153.01 L118.00,153.06 L117.50,153.10 L117.00,153.14 L116.50,153.19 L116.00,153.23 L115.50,153.27 L115.00,153.31 L114.50,153.35 L114.00,153.39 L113.50,153.43 L113.00,153.47 L112.50,153.51 L112.00,153.55 L111.50,153.59 L111.00,153.62 L110.50,153.66 L110.00,153.70 L109.50,153.73 L109.00,153.77 L108.50,153.80 L108.00,153.83 L107.50,153.87 L107.00,153.90 L106.50,153.93 L106.00,153.96 L105.50,153.99 L105.00,154.03 L104.50,154.06 L104.00,154.09 L103.50,154.12 L103.00,154.14 L102.50,154.17 L102.00,154.20 L101.50,154.23 L101.00,154.26 L100.50,154.28 L100.00,154.31 L99.50,154.34 L99.00,154.36 L98.50,154.39 L98.00,154.41 L97.50,154.44 L97.00,154.46 L96.50,154.49 L96.00,154.51 L95.50,154.53 L95.00,154.55 L94.50,154.58 L94.00,154.60 L93.50,154.62 L93.00,154.64 L92.50,154.66 L92.00,154.69 L91.50,154.71 L91.00,154.73 L90.50,154.75 L90.00,154.77 L89.50,154.79 L89.00,154.80 L88.50,154.82 L88.00,154.84 L87.50,154.86 L87.00,154.88 L86.50,154.90 L86.00,154.91 L85.50,154.93 L85.00,154.95 L84.50,154.96 L84.00,154.98 L83.50,155.00 L83.00,155.01 L82.50,155.03 L82.00,155.04 L81.50,155.06 L81.00,155.07 L80.50,155.09 L80.00,155.10 L79.50,155.12 L79.00,155.13 L78.50,155.15 L78.00,155.16 L77.50,155.17 L77.00,155.19 L76.50,155.20 L76.00,155.21 L75.50,155.22 L75.00,155.24 L74.50,155.25 L74.00,155.26 L73.50,155.27 L73.00,155.29 L72.50,155.30 L72.00,155.31 L71.50,155.32 L71.00,155.33 L70.50,155.34 L70.00,155.35 L69.50,155.36 L69.00,155.37 L68.50,155.38 L68.00,155.39 L67.50,155.40 L67.00,155.41 L66.50,155.42 L66.00,155.43 L65.50,155.44 L65.00,155.45 L64.50,155.46 L64.00,155.47 L63.50,155.48 L63.00,155.49 L62.50,155.50 L62.00,155.50 L61.50,155.51 L61.00,155.52 L60.50,155.53 L60.00,155.54 L59.50,155.54 L59.00,155.55 L58.50,155.56 L58.00,155.57 L57.50,155.57 L57.00,155.58 L56.50,155.59 L56.00,155.60 L55.50,155.60 L55.00,155.61 L54.50,155.62 L54.00,155.62Z" fill="rgb(0,128,128)" fill-opacity="0.5" stroke="none"/>
<path d="M54.00,147.91 L54.50,147.90 L55.00,147.90 L55.50,147.89 L56.00,147.89 L56.50,147.88 L57.00,147.88 L57.50,147.87 L58.00,147.87 L58.50,147.86 L59.00,147.86 L59.50,147.85 L60.00,147.84 L60.50,147.84 L61.00,147.83 L61.50,147.83 L62.00,147.82 L62.50,147.81 L63.00,147.81 L63.50,147.80 L64.00,147.79 L64.50,147.79 L65.00,147.78 L65.50,147.77 L66.00,147.77 L66.50,147.76 L67.00,147.75 L67.50,147.75 L68.00,147.74 L68.50,147.73 L69.00,147.72 L69.50,147.71 L70.00,147.71 L70.50,147.70 L71.00,147.69 L71.50,147.68 L72.00,147.67 L72.50,147.67 L73.00,147.66 L73.50,147.65 L74.00,147.64 L74.50,147.63 L75.00,147.62 L75.50,147.61 L76.00,147.60 L76.50,147.59 L77.00,147.58 L77.50,147.57 L78.00,147.56 L78.50,147.55 L79.00,147.54 L79.50,147.53 L80.00,147.52 L80.50,147.51 L81.00,147.50 L81.50,147.49 L82.00,147.48 L82.50,147.47 L83.00,147.45 L83.50,147.44 L84.00,147.43 L84.50,147.42 L85.00,147.41 L85.50,147.39 L86.00,147.38 L86.50,147.37 L87.00,147.35 L87.50,147.34 L88.00,147.33 L88.50,147.31 L89.00,147.30 L89.50,147.28 L90.00,147.27 L90.50,147.25 L91.00,147.24 L91.50,147.22 L92.00,147.21 L92.50,147.19 L93.00,147.18 L93.50,147.16 L94.00,147.15 L94.50,147.13 L95.00,147.11 L95.50,147.09 L96.00,147.08 L96.50,147.06 L97.00,147.04 L97.50,147.02 L98.00,147.01 L98.50,146.99 L99.00,146.97 L99.50,146.95 L100.00,146.93 L100.50,146.91 L101.00,146.89 L101.50,146.87 L102.00,146.85 L102.50,146.83 L103.00,146.80 L103.50,146.78 L104.00,146.76 L104.50,146.74 L105.00,146.72 L105.50,146.69 L106.00,146.67 L106.50,146.65 L107.00,146.62 L107.50,146.60 L108.00,146.57 L108.50,146.55 L109.00,146.52 L109.50,146.49 L110.00,146.47 L110.50,146.44 L111.00,146.41 L111.50,146.39 L112.00,146.36 L112.50,146.33 L113.00,146.30 L113.50,146.27 L114.00,146.24 L114.50,146.21 L115.00,146.18 L115.50,146.15 L116.00,146.12 L116.50,146.09 L117.00,146.05 L117.50,146.02 L118.00,145.99 L118.50,145.95 L119.00,145.92 L119.50,145.88 L120.00,145.85 L120.50,145.81 L121.00,145.78 L121.50,145.74 L122.00,145.70 L122.50,145.66 L123.00,145.62 L123.50,145.58 L124.00,145.54 L124.50,145.50 L125.00,145.46 L125.50,145.42 L126.00,145.38 L126.50,145.33 L127.00,145.29 L127.50,145.25 L128.00,145.20 L128.50,145.16 L129.00,145.11 L129.50,145.06 L130.00,145.02 L130.50,144.97 L131.00,144.92 L131.50,144.87 L132.00,144.82 L132.50,144.77 L133.00,144.72 L133.50,144.66 L134.00,144.61 L134.50,144.55 L135.00,144.50 L135.50,144.44 L136.00,144.39 L136.50,144.33 L137.00,144.27 L137.50,144.21 L138.00,144.15 L138.50,144.09 L139.00,144.03 L139.50,143.97 L140.00,143.90 L140.50,143.84 L141.00,143.77 L141.50,143.71 L142.00,143.64 L142.50,143.57 L143.00,143.50 L143.50,143.43 L144.00,143.36 L144.50,143.29 L145.00,143.22 L145.50,143.14 L146.00,143.07 L146.50,142.99 L147.00,142.92 L147.50,142.84 L148.00,142.76 L148.50,142.68 L149.00,142.60 L149.50,142.51 L150.00,142.43 L150.50,142.35 L151.00,142.26 L151.50,142.17 L152.00,142.08 L152.50,141.99 L153.00,141.90 L153.50,141.81 L154.00,141.72 L154.50,141.62 L155.00,141.53 L155.50,141.43 L156.00,141.33 L156.50,141.23 L157.00,141.13 L157.50,141.03 L158.00,140.92 L158.50,140.82 L159.00,140.71 L159.50,140.60 L160.00,140.49 L160.50,140.38 L161.00,140.27 L161.50,140.16 L162.00,140.04 L162.50,139.92 L163.00,139.80 L163.50,139.68 L164.00,139.56 L164.50,139.44 L165.00,139.32 L165.50,139.19 L166.00,139.06 L166.50,138.93 L167.00,138.80 L167.50,138.67 L168.00,138.53 L168.50,138.40 L169.00,138.26 L169.50,138.12 L170.00,137.98 L170.50,137.83 L171.00,137.69 L171.50,137.54 L172.00,137.39 L172.50,137.24 L173.00,137.09 L173.50,136.94 L174.00,136.78 L174.50,136.62 L175.00,136.46 L175.50,136.30 L176.00,136.14 L176.50,135.97 L177.00,135.80 L177.50,135.63 L178.00,135.46 L178.50,135.29 L179.00,135.11 L179.50,134.94 L180.00,134.76 L180.50,134.57 L181.00,134.39 L181.50,134.20 L182.00,134.02 L182.50,133.83 L183.00,133.63 L183.50,133.44 L184.00,133.24 L184.50,133.04 L185.00,132.84 L185.50,132.64 L186.00,132.44 L186.50,132.23 L187.00,132.02 L187.50,131.81 L188.00,131.59 L188.50,131.38 L189.00,131.16 L189.50,130.94 L190.00,130.72 L190.50,130.49 L191.00,130.26 L191.50,130.03 L192.00,129.80 L192.50,129.57 L193.00,129.33 L193.50,129.09 L194.00,128.85 L194.50,128.61 L195.00,128.36 L195.50,128.11 L196.00,127.86 L196.50,127.61 L197.00,127.36 L197.50,127.10 L198.00,126.84 L198.50,126.58 L199.00,126.31 L199.50,126.05 L200.00,125.78 L200.50,125.51 L201.00,125.24 L201.50,124.96 L202.00,124.68 L202.50,124.40 L203.00,124.12 L203.50,123.84 L204.00,123.55 L204.50,123.26 L205.00,122.97 L205.50,122.68 L206.00,122.38 L206.50,122.09 L207.00,121.79 L207.50,121.48 L208.00,121.18 L208.50,120.88 L209.00,120.57 L209.50,120.26 L210.00,119.95 L210.50,119.63 L211.00,119.32 L211.50,119.00 L212.00,118.68 L212.50,118.36 L213.00,118.03 L213.50,117.71 L214.00,117.38 L214.50,117.05 L215.00,116.72 L215.50,116.39 L216.00,116.06 L216.50,115.72 L217.00,115.38 L217.50,115.04 L218.00,114.70 L218.50,114.36 L219.00,114.02 L219.50,113.67 L220.00,113.33 L220.50,112.98 L221.00,112.63 L221.50,112.28 L222.00,111.92 L222.50,111.57 L223.00,111.22 L223.50,110.86 L224.00,110.50 L224.50,110.14 L225.00,109.78 L225.50,109.42 L226.00,109.06 L226.50,108.70 L227.00,108.33 L227.50,107.97 L228.00,107.60 L228.50,107.23 L229.00,106.87 L229.50,106.50 L230.00,106.13 L230.50,105.76 L231.00,105.39 L231.50,105.02 L232.00,104.64 L232.50,104.27 L233.00,103.90 L233.50,103.52 L234.00,103.15 L234.50,102.77 L235.00,102.39 L235.50,102.02 L236.00,101.64 L236.50,101.26 L237.00,100.88 L237.50,100.51 L238.00,100.13 L238.50,99.75 L239.00,99.37 L239.50,98.99 L240.00,98.61 L240.50,98.23 L241.00,97.85 L241.50,97.47 L242.00,97.08 L242.50,96.70 L243.00,96.32 L243.50,95.94 L244.00,95.56 L244.50,95.18 L245.00,94.79 L245.50,94.41 L246.00,94.03 L246.50,93.65 L247.00,93.26 L247.50,92.88 L248.00,92.50 L248.50,92.11 L249.00,91.73 L249.50,91.35 L250.00,90.97 L250.50,90.58 L251.00,90.20 L251.50,89.82 L252.00,89.43 L252.50,89.05 L253.00,88.67 L253.50,88.29 L254.00,87.90 L254.50,87.52 L255.00,87.14 L255.50,86.76 L256.00,86.37 L256.50,85.99 L257.00,85.61 L257.50,85.23 L258.00,84.84 L258.50,84.46 L259.00,84.08 L259.50,83.70 L260.00,83.32 L260.50,82.94 L261.00,82.55 L261.50,82.17 L262.00,81.79 L262.50,81.41 L263.00,81.03 L263.50,80.65 L264.00,80.27 L264.50,79.89 L265.00,79.50 L265.50,79.12 L266.00,78.74 L266.50,78.36 L267.00,77.98 L267.50,77.60 L268.00,77.22 L268.50,76.84 L269.00,76.46 L269.50,76.08 L270.00,75.70 L270.50,75.32 L271.00,74.94 L271.50,74.56 L272.00,74.18 L272.50,73.80 L273.00,73.43 L273.50,73.05 L274.00,72.67 L274.50,72.29 L275.00,71.91 L275.50,71.53 L276.00,71.15 L276.50,70.77 L277.00,70.39 L277.50,70.02 L278.00,69.64 L278.50,69.26 L279.00,68.88 L279.50,68.50 L280.00,68.12 L280.50,67.75 L281.00,67.37 L281.50,66.99 L282.00,66.61 L282.50,66.23 L283.00,65.86 L283.50,65.48 L284.00,65.10 L284.50,64.72 L285.00,64.34 L285.50,63.97 L286.00,63.59 L286.50,63.21 L287.00,62.83 L287.50,62.46 L288.00,62.08 L288.50,61.70 L289.00,61.33 L289.50,60.95 L290.00,60.57 L290.50,60.19 L291.00,59.82 L291.50,59.44 L292.00,59.06 L292.50,58.69 L293.00,58.31 L293.50,57.93 L294.00,57.55 L294.50,57.18 L295.00,56.80 L295.50,56.42 L296.00,56.05 L296.50,55.67 L297.00,55.29 L297.50,54.92 L298.00,54.54 L298.50,54.16 L299.00,53.79 L299.50,53.41 L300.00,53.03 L300.50,52.66 L301.00,52.28 L301.50,51.91 L302.00,51.53 L302.50,51.15 L303.00,50.78 L303.50,50.40 L304.00,50.02 L304.50,49.65 L305.00,49.27 L305.50,48.89 L306.00,48.52 L306.50,48.14 L307.00,47.77 L307.50,47.39 L308.00,47.01 L308.50,46.64 L309.00,46.26 L309.50,45.88 L310.00,45.51 L310.50,45.13 L311.00,44.76 L311.50,44.38 L312.00,44.00 L312.50,43.63 L313.00,43.25 L313.50,42.88 L314.00,42.50 L314.50,42.12 L315.00,41.75 L315.50,41.37 L316.00,41.00 L316.50,40.62 L317.00,40.24 L317.50,39.87 L318.00,39.49 L318.50,39.12 L319.00,38.74 L319.50,38.36 L320.00,37.99 L320.50,37.61 L321.00,37.24 L321.50,36.86 L322.00,36.48 L322.50,36.11 L323.00,35.73 L323.50,35.36 L324.00,34.98 L324.50,34.60 L325.00,34.23 L325.50,33.85 L326.00,33.48 L326.50,33.10 L327.00,32.72 L327.50,32.35 L328.00,31.97 L328.50,31.60 L329.00,31.22 L329.50,30.85 L330.00,30.47 L330.50,30.09 L331.00,29.72 L331.50,29.34 L332.00,28.97 L332.50,28.59 L333.00,28.21 L333.50,27.84 L334.00,27.46 L334.50,27.09 L335.00,26.71 L335.50,26.34 L336.00,25.96 L336.50,25.58 L337.00,25.21 L337.50,24.83 L338.00,24.46 L338.50,24.08 L339.00,23.71 L339.50,23.33 L340.00,22.95 L340.50,22.58 L341.00,22.20 L341.50,21.83 L342.00,21.45 L342.50,21.07 L343.00,20.70 L343.50,20.32 L344.00,19.95 L344.50,19.57 L345.00,19.20 L345.50,18.82 L346.00,18.44 L346.50,18.07 L347.00,17.69 L347.50,17.32 L348.00,16.94 L348.50,16.57 L349.00,16.19 L349.50,15.81 L350.00,15.44 L350.50,15.06 L351.00,14.69 L351.50,14.31 L352.00,13.94 L352.50,13.56 L353.00,13.18 L353.50,12.81 L354.00,12.43 L354.50,12.06 L355.00,11.68 L355.50,11.31 L356.00,10.93 L356.50,10.55 L357.00,10.18 L357.50,9.80 L358.00,9.43 L358.50,9.05 L359.00,8.67 L359.50,8.30" stroke="rgb(0,128,128)" stroke-width="1.85"/>
<path d="M54.00,155.62 L54.50,155.62 L55.00,155.61 L55.50,155.60 L56.00,155.60 L56.50,155.59 L57.00,155.58 L57.50,155.57 L58.00,155.57 L58.50,155.56 L59.00,155.55 L59.50,155.54 L60.00,155.54 L60.50,155.53 L61.00,155.52 L61.50,155.51 L62.00,155.50 L62.50,155.50 L63.00,155.49 L63.50,155.48 L64.00,155.47 L64.50,155.46 L65.00,155.45 L65.50,155.44 L66.00,155.43 L66.50,155.42 L67.00,155.41 L67.50,155.40 L68.00,155.39 L68.50,155.38 L69.00,155.37 L69.50,155.36 L70.00,155.35 L70.50,155.34 L71.00,155.33 L71.50,155.32 L72.00,155.31 L72.50,155.30 L73.00,155.29 L73.50,155.27 L74.00,155.26 L74.50,155.25 L75.00,155.24 L75.50,155.22 L76.00,155.21 L76.50,155.20 L77.00,155.19 L77.50,155.17 L78.00,155.16 L78.50,155.15 L79.00,155.13 L79.50,155.12 L80.00,155.10 L80.50,155.09 L81.00,155.07 L81.50,155.06 L82.00,155.04 L82.50,155.03 L83.00,155.01 L83.50,155.00 L84.00,154.98 L84.50,154.96 L85.00,154.95 L85.50,154.93 L86.00,154.91 L86.50,154.90 L87.00,154.88 L87.50,154.86 L88.00,154.84 L88.50,154.82 L89.00,154.80 L89.50,154.79 L90.00,154.77 L90.50,154.75 L91.00,154.73 L91.50,154.71 L92.00,154.69 L92.50,154.66 L93.00,154.64 L93.50,154.62 L94.00,154.60 L94.50,154.58 L95.00,154.55 L95.50,154.53 L96.00,154.51 L96.50,154.49 L97.00,154.46 L97.50,154.44 L98.00,154.41 L98.50,154.39 L99.00,154.36 L99.50,154.34 L100.00,154.31 L100.50,154.28 L101.00,154.26 L101.50,154.23 L102.00,154.20 L102.50,154.17 L103.00,154.14 L103.50,154.12 L104.00,154.09 L104.50,154.06 L105.00,154.03 L105.50,153.99 L106.00,153.96 L106.50,153.93 L107.00,153.90 L107.50,153.87 L108.00,153.83 L108.50,153.80 L109.00,153.77 L109.50,153.73 L110.00,153.70 L110.50,153.66 L111.00,153.62 L111.50,153.59 L112.00,153.55 L112.50,153.51 L113.00,153.47 L113.50,153.43 L114.00,153.39 L114.50,153.35 L115.00,153.31 L115.50,153.27 L116.00,153.23 L116.50,153.19 L117.00,153.14 L117.50,153.10 L118.00,153.06 L118.50,153.01 L119.00,152.96 L119.50,152.92 L120.00,152.87 L120.50,152.82 L121.00,152.77 L121.50,152.72 L122.00,152.67 L122.50,152.62 L123.00,152.57 L123.50,152.52 L124.00,152.47 L124.50,152.41 L125.00,152.36 L125.50,152.30 L126.00,152.25 L126.50,152.19 L127.00,152.13 L127.50,152.07 L128.00,152.01 L128.50,151.95 L129.00,151.89 L129.50,151.83 L130.00,151.77 L130.50,151.70 L131.00,151.64 L131.50,151.57 L132.00,151.51 L132.50,151.44 L133.00,151.37 L133.50,151.30 L134.00,151.23 L134.50,151.16 L135.00,151.09 L135.50,151.01 L136.00,150.94 L136.50,150.86 L137.00,150.79 L137.50,150.71 L138.00,150.63 L138.50,150.55 L139.00,150.47 L139.50,150.39 L140.00,150.30 L140.50,150.22 L141.00,150.14 L141.50,150.05 L142.00,149.96 L142.50,149.87 L143.00,149.78 L143.50,149.69 L144.00,149.60 L144.50,149.50 L145.00,149.41 L145.50,149.31 L146.00,149.21 L146.50,149.11 L147.00,149.01 L147.50,148.91 L148.00,148.81 L148.50,148.70 L149.00,148.60 L149.50,148.49 L150.00,148.38 L150.50,148.27 L151.00,148.16 L151.50,148.04 L152.00,147.93 L152.50,147.81 L153.00,147.70 L153.50,147.58 L154.00,147.46 L154.50,147.33 L155.00,147.21 L155.50,147.08 L156.00,146.96 L156.50,146.83 L157.00,146.70 L157.50,146.56 L158.00,146.43 L158.50,146.29 L159.00,146.16 L159.50,146.02 L160.00,145.88 L160.50,145.74 L161.00,145.59 L161.50,145.44 L162.00,145.30 L162.50,145.15 L163.00,145.00 L163.50,144.84 L164.00,144.69 L164.50,144.53 L165.00,144.37 L165.50,144.21 L166.00,144.05 L166.50,143.88 L167.00,143.72 L167.50,143.55 L168.00,143.38 L168.50,143.20 L169.00,143.03 L169.50,142.85 L170.00,142.67 L170.50,142.49 L171.00,142.31 L171.50,142.13 L172.00,141.94 L172.50,141.75 L173.00,141.56 L173.50,141.37 L174.00,141.17 L174.50,140.97 L175.00,140.77 L175.50,140.57 L176.00,140.37 L176.50,140.16 L177.00,139.95 L177.50,139.74 L178.00,139.53 L178.50,139.32 L179.00,139.10 L179.50,138.88 L180.00,138.66 L180.50,138.44 L181.00,138.21 L181.50,137.98 L182.00,137.75 L182.50,137.52 L183.00,137.28 L183.50,137.05 L184.00,136.81 L184.50,136.57 L185.00,136.32 L185.50,136.08 L186.00,135.83 L186.50,135.58 L187.00,135.33 L187.50,135.07 L188.00,134.81 L188.50,134.55 L189.00,134.29 L189.50,134.03 L190.00,133.76 L190.50,133.50 L191.00,133.23 L191.50,132.95 L192.00,132.68 L192.50,132.40 L193.00,132.12 L193.50,131.84 L194.00,131.56 L194.50,131.27 L195.00,130.99 L195.50,130.70 L196.00,130.41 L196.50,130.11 L197.00,129.82 L197.50,129.52 L198.00,129.22 L198.50,128.92 L199.00,128.61 L199.50,128.31 L200.00,128.00 L200.50,127.69 L201.00,127.38 L201.50,127.07 L202.00,126.75 L202.50,126.44 L203.00,126.12 L203.50,125.80 L204.00,125.47 L204.50,125.15 L205.00,124.83 L205.50,124.50 L206.00,124.17 L206.50,123.84 L207.00,123.51 L207.50,123.17 L208.00,122.84 L208.50,122.50 L209.00,122.16 L209.50,121.82 L210.00,121.48 L210.50,121.14 L211.00,120.80 L211.50,120.45 L212.00,120.11 L212.50,119.76 L213.00,119.41 L213.50,119.06 L214.00,118.71 L214.50,118.36 L215.00,118.00 L215.50,117.65 L216.00,117.29 L216.50,116.93 L217.00,116.58 L217.50,116.22 L218.00,115.86 L218.50,115.49 L219.00,115.13 L219.50,114.77 L220.00,114.41 L220.50,114.04 L221.00,113.68 L221.50,113.31 L222.00,112.94 L222.50,112.57 L223.00,112.21 L223.50,111.84 L224.00,111.47 L224.50,111.10 L225.00,110.72 L225.50,110.35 L226.00,109.98 L226.50,109.61 L227.00,109.23 L227.50,108.86 L228.00,108.48 L228.50,108.11 L229.00,107.73 L229.50,107.36 L230.00,106.98 L230.50,106.60 L231.00,106.22 L231.50,105.85 L232.00,105.47 L232.50,105.09 L233.00,104.71 L233.50,104.33 L234.00,103.95 L234.50,103.57 L235.00,103.19 L235.50,102.81 L236.00,102.43 L236.50,102.05 L237.00,101.67 L237.50,101.29 L238.00,100.91 L238.50,100.52 L239.00,100.14 L239.50,99.76 L240.00,99.38 L240.50,98.99 L241.00,98.61 L241.50,98.23 L242.00,97.85 L242.50,97.46 L243.00,97.08 L243.50,96.70 L244.00,96.31 L244.50,95.93 L245.00,95.55 L245.50,95.16 L246.00,94.78 L246.50,94.40 L247.00,94.01 L247.50,93.63 L248.00,93.25 L248.50,92.86 L249.00,92.48 L249.50,92.10 L250.00,91.71 L250.50,91.33 L251.00,90.94 L251.50,90.56 L252.00,90.18 L252.50,89.79 L253.00,89.41 L253.50,89.03 L254.00,88.64 L254.50,88.26 L255.00,87.88 L255.50,87.49 L256.00,87.11 L256.50,86.73 L257.00,86.34 L257.50,85.96 L258.00,85.58 L258.50,85.20 L259.00,84.81 L259.50,84.43 L260.00,84.05 L260.50,83.66 L261.00,83.28 L261.50,82.90 L262.00,82.52 L262.50,82.13 L263.00,81.75 L263.50,81.37 L264.00,80.99 L264.50,80.61 L265.00,80.22 L265.50,79.84 L266.00,79.46 L266.50,79.08 L267.00,78.70 L267.50,78.32 L268.00,77.93 L268.50,77.55 L269.00,77.17 L269.50,76.79 L270.00,76.41 L270.50,76.03 L271.00,75.65 L271.50,75.27 L272.00,74.89 L272.50,74.50 L273.00,74.12 L273.50,73.74 L274.00,73.36 L274.50,72.98 L275.00,72.60 L275.50,72.22 L276.00,71.84 L276.50,71.46 L277.00,71.08 L277.50,70.70 L278.00,70.32 L278.50,69.94 L279.00,69.56 L279.50,69.18 L280.00,68.80 L280.50,68.42 L281.00,68.05 L281.50,67.67 L282.00,67.29 L282.50,66.91 L283.00,66.53 L283.50,66.15 L284.00,65.77 L284.50,65.39 L285.00,65.01 L285.50,64.64 L286.00,64.26 L286.50,63.88 L287.00,63.50 L287.50,63.12 L288.00,62.74 L288.50,62.36 L289.00,61.99 L289.50,61.61 L290.00,61.23 L290.50,60.85 L291.00,60.47 L291.50,60.10 L292.00,59.72 L292.50,59.34 L293.00,58.96 L293.50,58.59 L294.00,58.21 L294.50,57.83 L295.00,57.45 L295.50,57.08 L296.00,56.70 L296.50,56.32 L297.00,55.94 L297.50,55.57 L298.00,55.19 L298.50,54.81 L299.00,54.43 L299.50,54.06 L300.00,53.68 L300.50,53.30 L301.00,52.93 L301.50,52.55 L302.00,52.17 L302.50,51.79 L303.00,51.42 L303.50,51.04 L304.00,50.66 L304.50,50.29 L305.00,49.91 L305.50,49.53 L306.00,49.16 L306.50,48.78 L307.00,48.40 L307.50,48.03 L308.00,47.65 L308.50,47.27 L309.00,46.90 L309.50,46.52 L310.00,46.14 L310.50,45.77 L311.00,45.39 L311.50,45.01 L312.00,44.64 L312.50,44.26 L313.00,43.89 L313.50,43.51 L314.00,43.13 L314.50,42.76 L315.00,42.38 L315.50,42.00 L316.00,41.63 L316.50,41.25 L317.00,40.87 L317.50,40.50 L318.00,40.12 L318.50,39.75 L319.00,39.37 L319.50,38.99 L320.00,38.62 L320.50,38.24 L321.00,37.87 L321.50,37.49 L322.00,37.11 L322.50,36.74 L323.00,36.36 L323.50,35.98 L324.00,35.61 L324.50,35.23 L325.00,34.86 L325.50,34.48 L326.00,34.10 L326.50,33.73 L327.00,33.35 L327.50,32.98 L328.00,32.60 L328.50,32.22 L329.00,31.85 L329.50,31.47 L330.00,31.10 L330.50,30.72 L331.00,30.34 L331.50,29.97 L332.00,29.59 L332.50,29.22 L333.00,28.84 L333.50,28.46 L334.00,28.09 L334.50,27.71 L335.00,27.34 L335.50,26.96 L336.00,26.59 L336.50,26.21 L337.00,25.83 L337.50,25.46 L338.00,25.08 L338.50,24.71 L339.00,24.33 L339.50,23.95 L340.00,23.58 L340.50,23.20 L341.00,22.83 L341.50,22.45 L342.00,22.08 L342.50,21.70 L343.00,21.32 L343.50,20.95 L344.00,20.57 L344.50,20.20 L345.00,19.82 L345.50,19.44 L346.00,19.07 L346.50,18.69 L347.00,18.32 L347.50,17.94 L348.00,17.57 L348.50,17.19 L349.00,16.81 L349.50,16.44 L350.00,16.06 L350.50,15.69 L351.00,15.31 L351.50,14.93 L352.00,14.56 L352.50,14.18 L353.00,13.81 L353.50,13.43 L354.00,13.06 L354.50,12.68 L355.00,12.30 L355.50,11.93 L356.00,11.55 L356.50,11.18 L357.00,10.80 L357.50,10.43 L358.00,10.05 L358.50,9.67 L359.00,9.30 L359.50,8.92" stroke="rgb(0,128,128)" stroke-width="1.85"/>
<path d="M54.00,83.01 L54.50,83.01 L55.00,83.01 L55.50,83.01 L56.00,83.01 L56.50,83.01 L57.00,83.01 L57.50,83.01 L58.00,83.01 L58.50,83.01 L59.00,83.01 L59.50,83.01 L60.00,83.01 L60.50,83.01 L61.00,83.01 L61.50,83.01 L62.00,83.01 L62.50,83.01 L63.00,83.01 L63.50,83.01 L64.00,83.01 L64.50,83.01 L65.00,83.01 L65.50,83.01 L66.00,83.01 L66.50,83.01 L67.00,83.01 L67.50,83.01 L68.00,83.01 L68.50,83.01 L69.00,83.01 L69.50,83.01 L70.00,83.01 L70.50,83.01 L71.00,83.01 L71.50,83.01 L72.00,83.01 L72.50,83.01 L73.00,83.01 L73.50,83.01 L74.00,83.01 L74.50,83.01 L75.00,83.01 L75.50,83.01 L76.00,83.01 L76.50,83.01 L77.00,83.01 L77.50,83.01 L78.00,83.01 L78.50,83.01 L79.00,83.01 L79.50,83.01 L80.00,83.01 L80.50,83.01 L81.00,83.01 L81.50,83.01 L82.00,83.01 L82.50,83.01 L83.00,83.01 L83.50,83.01 L84.00,83.01 L84.50,83.01 L85.00,83.01 L85.50,83.01 L86.00,83.01 L86.50,83.01 L87.00,83.01 L87.50,83.01 L88.00,83.01 L88.50,83.01 L89.00,83.01 L89.50,83.01 L90.00,83.01 L90.50,83.01 L91.00,83.01 L91.50,83.01 L92.00,83.01 L92.50,83.01 L93.00,83.00 L93.50,83.00 L94.00,83.00 L94.50,83.00 L95.00,83.00 L95.50,83.00 L96.00,83.00 L96.50,83.00 L97.00,83.00 L97.50,83.00 L98.00,83.00 L98.50,83.00 L99.00,83.00 L99.50,83.00 L100.00,83.00 L100.50,83.00 L101.00,83.00 L101.50,83.00 L102.00,83.00 L102.50,83.00 L103.00,83.00 L103.50,83.00 L104.00,83.00 L104.50,83.00 L105.00,83.00 L105.50,83.00 L106.00,83.00 L106.50,83.00 L107.00,83.00 L107.50,83.00 L108.00,83.00 L108.50,83.00 L109.00,83.00 L109.50,83.00 L110.00,83.00 L110.50,83.00 L111.00,83.00 L111.50,83.00 L112.00,83.00 L112.50,83.00 L113.00,83.00 L113.50,83.00 L114.00,83.00 L114.50,83.00 L115.00,82.99 L115.50,82.99 L116.00,82.99 L116.50,82.99 L117.00,82.99 L117.50,82.99 L118.00,82.99 L118.50,82.99 L119.00,82.99 L119.50,82.99 L120.00,82.99 L120.50,82.99 L121.00,82.99 L121.50,82.99 L122.00,82.99 L122.50,82.99 L123.00,82.99 L123.50,82.99 L124.00,82.99 L124.50,82.99 L125.00,82.99 L125.50,82.99 L126.00,82.99 L126.50,82.99 L127.00,82.99 L127.50,82.98 L128.00,82.98 L128.50,82.98 L129.00,82.98 L129.50,82.98 L130.00,82.98 L130.50,82.98 L131.00,82.98 L131.50,82.98 L132.00,82.98 L132.50,82.98 L133.00,82.98 L133.50,82.98 L134.00,82.98 L134.50,82.98 L135.00,82.98 L135.50,82.98 L136.00,82.97 L136.50,82.97 L137.00,82.97 L137.50,82.97 L138.00,82.97 L138.50,82.97 L139.00,82.97 L139.50,82.97 L140.00,82.97 L140.50,82.97 L141.00,82.97 L141.50,82.97 L142.00,82.97 L142.50,82.96 L143.00,82.96 L143.50,82.96 L144.00,82.96 L144.50,82.96 L145.00,82.96 L145.50,82.96 L146.00,82.96 L146.50,82.96 L147.00,82.96 L147.50,82.95 L148.00,82.95 L148.50,82.95 L149.00,82.95 L149.50,82.95 L150.00,82.95 L150.50,82.95 L151.00,82.95 L151.50,82.94 L152.00,82.94 L152.50,82.94 L153.00,82.94 L153.50,82.94 L154.00,82.94 L154.50,82.94 L155.00,82.94 L155.50,82.93 L156.00,82.93 L156.50,82.93 L157.00,82.93 L157.50,82.93 L158.00,82.93 L158.50,82.92 L159.00,82.92 L159.50,82.92 L160.00,82.92 L160.50,82.92 L161.00,82.91 L161.50,82.91 L162.00,82.91 L162.50,82.91 L163.00,82.91 L163.50,82.90 L164.00,82.90 L164.50,82.90 L165.00,82.90 L165.50,82.90 L166.00,82.89 L166.50,82.89 L167.00,82.89 L167.50,82.89 L168.00,82.88 L168.50,82.88 L169.00,82.88 L169.50,82.88 L170.00,82.87 L170.50,82.87 L171.00,82.87 L171.50,82.86 L172.00,82.86 L172.50,82.86 L173.00,82.85 L173.50,82.85 L174.00,82.85 L174.50,82.84 L175.00,82.84 L175.50,82.84 L176.00,82.83 L176.50,82.83 L177.00,82.83 L177.50,82.82 L178.00,82.82 L178.50,82.81 L179.00,82.81 L179.50,82.80 L180.00,82.80 L180.50,82.80 L181.00,82.79 L181.50,82.79 L182.00,82.78 L182.50,82.78 L183.00,82.77 L183.50,82.77 L184.00,82.76 L184.50,82.76 L185.00,82.75 L185.50,82.74 L186.00,82.74 L186.50,82.73 L187.00,82.73 L187.50,82.72 L188.00,82.71 L188.50,82.71 L189.00,82.70 L189.50,82.69 L190.00,82.68 L190.50,82.68 L191.00,82.67 L191.50,82.66 L192.00,82.65 L192.50,82.65 L193.00,82.64 L193.50,82.63 L194.00,82.62 L194.50,82.61 L195.00,82.60 L195.50,82.59 L196.00,82.58 L196.50,82.57 L197.00,82.56 L197.50,82.55 L198.00,82.54 L198.50,82.53 L199.00,82.52 L199.50,82.51 L200.00,82.49 L200.50,82.49 L201.00,82.48 L201.50,82.46 L202.00,82.45 L202.50,82.44 L203.00,82.43 L203.50,82.42 L204.00,82.41 L204.50,82.40 L205.00,82.38 L205.50,82.37 L206.00,82.36 L206.50,82.34 L207.00,82.33 L207.50,82.31 L208.00,82.30 L208.50,82.28 L209.00,82.26 L209.50,82.25 L210.00,82.23 L210.50,82.21 L211.00,82.19 L211.50,82.17 L212.00,82.16 L212.50,82.14 L213.00,82.11 L213.50,82.09 L214.00,82.07 L214.50,82.05 L215.00,82.03 L215.50,82.00 L216.00,81.98 L216.50,81.96 L217.00,81.93 L217.50,81.91 L218.00,81.88 L218.50,81.86 L219.00,81.83 L219.50,81.80 L220.00,81.78 L220.50,81.75 L221.00,81.72 L221.50,81.68 L222.00,81.65 L222.50,81.62 L223.00,81.59 L223.50,81.55 L224.00,81.51 L224.50,81.48 L225.00,81.44 L225.50,81.40 L226.00,81.36 L226.50,81.32 L227.00,81.28 L227.50,81.23 L228.00,81.19 L228.50,81.14 L229.00,81.09 L229.50,81.04 L230.00,80.99 L230.50,80.94 L231.00,80.89 L231.50,80.84 L232.00,80.78 L232.50,80.72 L233.00,80.66 L233.50,80.60 L234.00,80.54 L234.50,80.48 L235.00,80.41 L235.50,80.35 L236.00,80.28 L236.50,80.21 L237.00,80.14 L237.50,80.06 L238.00,79.99 L238.50,79.91 L239.00,79.83 L239.50,79.75 L240.00,79.67 L240.50,79.59 L241.00,79.51 L241.50,79.43 L242.00,79.35 L242.50,79.27 L243.00,79.18 L243.50,79.10 L244.00,79.01 L244.50,78.91 L245.00,78.82 L245.50,78.72 L246.00,78.62 L246.50,78.52 L247.00,78.42 L247.50,78.31 L248.00,78.20 L248.50,78.09 L249.00,77.98 L249.50,77.86 L250.00,77.74 L250.50,77.62 L251.00,77.50 L251.50,77.37 L252.00,77.24 L252.50,77.11 L253.00,76.98 L253.50,76.84 L254.00,76.70 L254.50,76.56 L255.00,76.41 L255.50,76.26 L256.00,76.11 L256.50,75.96 L257.00,75.80 L257.50,75.64 L258.00,75.48 L258.50,75.32 L259.00,75.15 L259.50,74.98 L260.00,74.80 L260.50,74.61 L261.00,74.42 L261.50,74.23 L262.00,74.03 L262.50,73.81 L263.00,73.59 L263.50,73.37 L264.00,73.15 L264.50,72.92 L265.00,72.69 L265.50,72.46 L266.00,72.22 L266.50,71.98 L267.00,71.74 L267.50,71.50 L268.00,71.25 L268.50,71.00 L269.00,70.75 L269.50,70.50 L270.00,70.24 L270.50,69.98 L271.00,69.72 L271.50,69.45 L272.00,69.18 L272.50,68.91 L273.00,68.64 L273.50,68.37 L274.00,68.09 L274.50,67.81 L275.00,67.53 L275.50,67.24 L276.00,66.96 L276.50,66.67 L277.00,66.38 L277.50,66.08 L278.00,65.79 L278.50,65.49 L279.00,65.19 L279.50,64.89 L280.00,64.59 L280.50,64.28 L281.00,63.97 L281.50,63.66 L282.00,63.35 L282.50,63.04 L283.00,62.72 L283.50,62.41 L284.00,62.09 L284.50,61.77 L285.00,61.44 L285.50,61.13 L286.00,60.82 L286.50,60.51 L287.00,60.19 L287.50,59.87 L288.00,59.55 L288.50,59.23 L289.00,58.91 L289.50,58.59 L290.00,58.26 L290.50,57.93 L291.00,57.61 L291.50,57.27 L292.00,56.94 L292.50,56.61 L293.00,56.27 L293.50,55.94 L294.00,55.60 L294.50,55.26 L295.00,54.92 L295.50,54.58 L296.00,54.24 L296.50,53.90 L297.00,53.55 L297.50,53.21 L298.00,52.86 L298.50,52.52 L299.00,52.17 L299.50,51.82 L300.00,51.47 L300.50,51.12 L301.00,50.77 L301.50,50.42 L302.00,50.07 L302.50,49.72 L303.00,49.36 L303.50,49.01 L304.00,48.65 L304.50,48.30 L305.00,47.94 L305.50,47.58 L306.00,47.22 L306.50,46.87 L307.00,46.51 L307.50,46.15 L308.00,45.79 L308.50,45.43 L309.00,45.06 L309.50,44.70 L310.00,44.34 L310.50,43.98 L311.00,43.61 L311.50,43.25 L312.00,42.89 L312.50,42.52 L313.00,42.16 L313.50,41.79 L314.00,41.43 L314.50,41.06 L315.00,40.69 L315.50,40.33 L316.00,39.96 L316.50,39.59 L317.00,39.22 L317.50,38.86 L318.00,38.49 L318.50,38.12 L319.00,37.75 L319.50,37.38 L320.00,37.01 L320.50,36.64 L321.00,36.27 L321.50,35.91 L322.00,35.54 L322.50,35.17 L323.00,34.80 L323.50,34.43 L324.00,34.06 L324.50,33.69 L325.00,33.32 L325.50,32.95 L326.00,32.58 L326.50,32.21 L327.00,31.84 L327.50,31.47 L328.00,31.10 L328.50,30.73 L329.00,30.36 L329.50,29.99 L330.00,29.62 L330.50,29.25 L331.00,28.88 L331.50,28.50 L332.00,28.13 L332.50,27.76 L333.00,27.39 L333.50,27.02 L334.00,26.64 L334.50,26.27 L335.00,25.90 L335.50,25.53 L336.00,25.15 L336.50,24.78 L337.00,24.41 L337.50,24.03 L338.00,23.66 L338.50,23.29 L339.00,22.91 L339.50,22.54 L340.00,22.17 L340.50,21.79 L341.00,21.42 L341.50,21.05 L342.00,20.67 L342.50,20.30 L343.00,19.92 L343.50,19.55 L344.00,19.18 L344.50,18.80 L345.00,18.43 L345.50,18.05 L346.00,17.68 L346.50,17.30 L347.00,16.93 L347.50,16.55 L348.00,16.18 L348.50,15.80 L349.00,15.43 L349.50,15.06 L350.00,14.68 L350.50,14.31 L351.00,13.93 L351.50,13.56 L352.00,13.18 L352.50,12.81 L353.00,12.43 L353.50,12.06 L354.00,11.68 L354.50,11.30 L355.00,10.93 L355.50,10.55 L356.00,10.18 L356.50,9.80 L357.00,9.43 L357.50,9.05 L358.00,8.68 L358.50,8.30 L359.00,7.93 L359.50,7.55 L359.50,9.85 L359.00,10.23 L358.50,10.60 L358.00,10.98 L357.50,11.36 L357.00,11.73 L356.50,12.11 L356.00,12.49 L355.50,12.86 L355.00,13.24 L354.50,13.61 L354.00,13.99 L353.50,14.37 L353.00,14.74 L352.50,15.12 L352.00,15.49 L351.50,15.87 L351.00,16.24 L350.50,16.62 L350.00,17.00 L349.50,17.37 L349.00,17.75 L348.50,18.12 L348.00,18.50 L347.50,18.87 L347.00,19.25 L346.50,19.63 L346.00,20.00 L345.50,20.38 L345.00,20.75 L344.50,21.13 L344.00,21.50 L343.50,21.88 L343.00,22.25 L342.50,22.63 L342.00,23.00 L341.50,23.38 L341.00,23.75 L340.50,24.12 L340.00,24.50 L339.50,24.87 L339.00,25.25 L338.50,25.62 L338.00,26.00 L337.50,26.37 L337.00,26.74 L336.50,27.12 L336.00,27.49 L335.50,27.87 L335.00,28.24 L334.50,28.61 L334.00,28.99 L333.50,29.36 L333.00,29.73 L332.50,30.10 L332.00,30.48 L331.50,30.85 L331.00,31.22 L330.50,31.60 L330.00,31.97 L329.50,32.34 L329.00,32.71 L328.50,33.08 L328.00,33.45 L327.50,33.83 L327.00,34.20 L326.50,34.57 L326.00,34.94 L325.50,35.31 L325.00,35.68 L324.50,36.05 L324.00,36.42 L323.50,36.79 L323.00,37.16 L322.50,37.53 L322.00,37.90 L321.50,38.27 L321.00,38.64 L320.50,39.01 L320.00,39.37 L319.50,39.74 L319.00,40.11 L318.50,40.48 L318.00,40.84 L317.50,41.21 L317.00,41.58 L316.50,41.94 L316.00,42.31 L315.50,42.67 L315.00,43.04 L314.50,43.40 L314.00,43.77 L313.50,44.13 L313.00,44.50 L312.50,44.86 L312.00,45.22 L311.50,45.58 L311.00,45.94 L310.50,46.31 L310.00,46.67 L309.50,47.03 L309.00,47.39 L308.50,47.75 L308.00,48.11 L307.50,48.46 L307.00,48.82 L306.50,49.18 L306.00,49.53 L305.50,49.89 L305.00,50.25 L304.50,50.60 L304.00,50.95 L303.50,51.31 L303.00,51.66 L302.50,52.01 L302.00,52.36 L301.50,52.71 L301.00,53.06 L300.50,53.41 L300.00,53.76 L299.50,54.11 L299.00,54.45 L298.50,54.80 L298.00,55.14 L297.50,55.49 L297.00,55.83 L296.50,56.17 L296.00,56.51 L295.50,56.85 L295.00,57.19 L294.50,57.53 L294.00,57.87 L293.50,58.20 L293.00,58.53 L292.50,58.87 L292.00,59.20 L291.50,59.53 L291.00,59.86 L290.50,60.19 L290.00,60.51 L289.50,60.84 L289.00,61.16 L288.50,61.49 L288.00,61.81 L287.50,62.13 L287.00,62.45 L286.50,62.77 L286.00,63.08 L285.50,63.40 L285.00,63.71 L284.50,64.03 L284.00,64.36 L283.50,64.68 L283.00,65.00 L282.50,65.31 L282.00,65.63 L281.50,65.94 L281.00,66.25 L280.50,66.56 L280.00,66.87 L279.50,67.18 L279.00,67.48 L278.50,67.78 L278.00,68.08 L277.50,68.38 L277.00,68.67 L276.50,68.96 L276.00,69.25 L275.50,69.54 L275.00,69.83 L274.50,70.11 L274.00,70.39 L273.50,70.67 L273.00,70.95 L272.50,71.22 L272.00,71.49 L271.50,71.76 L271.00,72.03 L270.50,72.29 L270.00,72.56 L269.50,72.81 L269.00,73.07 L268.50,73.32 L268.00,73.57 L267.50,73.82 L267.00,74.07 L266.50,74.31 L266.00,74.55 L265.50,74.79 L265.00,75.02 L264.50,75.25 L264.00,75.48 L263.50,75.71 L263.00,75.93 L262.50,76.15 L262.00,76.37 L261.50,76.57 L261.00,76.77 L260.50,76.96 L260.00,77.15 L259.50,77.34 L259.00,77.53 L258.50,77.72 L258.00,77.90 L257.50,78.08 L257.00,78.26 L256.50,78.43 L256.00,78.60 L255.50,78.77 L255.00,78.94 L254.50,79.10 L254.00,79.26 L253.50,79.42 L253.00,79.58 L252.50,79.73 L252.00,79.88 L251.50,80.03 L251.00,80.17 L250.50,80.31 L250.00,80.45 L249.50,80.59 L249.00,80.72 L248.50,80.85 L248.00,80.98 L247.50,81.11 L247.00,81.23 L246.50,81.35 L246.00,81.47 L245.50,81.58 L245.00,81.69 L244.50,81.79 L244.00,81.90 L243.50,82.00 L243.00,82.09 L242.50,82.19 L242.00,82.28 L241.50,82.37 L241.00,82.46 L240.50,82.55 L240.00,82.64 L239.50,82.72 L239.00,82.80 L238.50,82.88 L238.00,82.96 L237.50,83.03 L237.00,83.11 L236.50,83.18 L236.00,83.25 L235.50,83.32 L235.00,83.39 L234.50,83.45 L234.00,83.52 L233.50,83.58 L233.00,83.64 L232.50,83.70 L232.00,83.76 L231.50,83.82 L231.00,83.88 L230.50,83.93 L230.00,83.98 L229.50,84.03 L229.00,84.09 L228.50,84.13 L228.00,84.18 L227.50,84.23 L227.00,84.27 L226.50,84.32 L226.00,84.36 L225.50,84.40 L225.00,84.44 L224.50,84.48 L224.00,84.52 L223.50,84.56 L223.00,84.60 L222.50,84.63 L222.00,84.67 L221.50,84.70 L221.00,84.73 L220.50,84.76 L220.00,84.79 L219.50,84.83 L219.00,84.85 L218.50,84.88 L218.00,84.91 L217.50,84.94 L217.00,84.96 L216.50,84.99 L216.00,85.01 L215.50,85.04 L215.00,85.06 L214.50,85.09 L214.00,85.11 L213.50,85.13 L213.00,85.16 L212.50,85.18 L212.00,85.20 L211.50,85.22 L211.00,85.24 L210.50,85.26 L210.00,85.28 L209.50,85.30 L209.00,85.32 L208.50,85.34 L208.00,85.36 L207.50,85.37 L207.00,85.39 L206.50,85.41 L206.00,85.43 L205.50,85.44 L205.00,85.46 L204.50,85.47 L204.00,85.49 L203.50,85.50 L203.00,85.52 L202.50,85.53 L202.00,85.54 L201.50,85.56 L201.00,85.57 L200.50,85.58 L200.00,85.59 L199.50,85.61 L199.00,85.62 L198.50,85.63 L198.00,85.64 L197.50,85.65 L197.00,85.66 L196.50,85.67 L196.00,85.68 L195.50,85.69 L195.00,85.70 L194.50,85.71 L194.00,85.72 L193.50,85.73 L193.00,85.74 L192.50,85.75 L192.00,85.75 L191.50,85.76 L191.00,85.77 L190.50,85.78 L190.00,85.78 L189.50,85.79 L189.00,85.80 L188.50,85.81 L188.00,85.81 L187.50,85.82 L187.00,85.83 L186.50,85.83 L186.00,85.84 L185.50,85.84 L185.00,85.85 L184.50,85.86 L184.00,85.86 L183.50,85.87 L183.00,85.87 L182.50,85.88 L182.00,85.88 L181.50,85.89 L181.00,85.89 L180.50,85.90 L180.00,85.90 L179.50,85.90 L179.00,85.91 L178.50,85.91 L178.00,85.92 L177.50,85.92 L177.00,85.93 L176.50,85.93 L176.00,85.93 L175.50,85.94 L175.00,85.94 L174.50,85.94 L174.00,85.95 L173.50,85.95 L173.00,85.95 L172.50,85.96 L172.00,85.96 L171.50,85.96 L171.00,85.97 L170.50,85.97 L170.00,85.97 L169.50,85.98 L169.00,85.98 L168.50,85.98 L168.00,85.98 L167.50,85.99 L167.00,85.99 L166.50,85.99 L166.00,85.99 L165.50,86.00 L165.00,86.00 L164.50,86.00 L164.00,86.00 L163.50,86.00 L163.00,86.01 L162.50,86.01 L162.00,86.01 L161.50,86.01 L161.00,86.01 L160.50,86.02 L160.00,86.02 L159.50,86.02 L159.00,86.02 L158.50,86.02 L158.00,86.03 L157.50,86.03 L157.00,86.03 L156.50,86.03 L156.00,86.03 L155.50,86.03 L155.00,86.04 L154.50,86.04 L154.00,86.04 L153.50,86.04 L153.00,86.04 L152.50,86.04 L152.00,86.04 L151.50,86.04 L151.00,86.05 L150.50,86.05 L150.00,86.05 L149.50,86.05 L149.00,86.05 L148.50,86.05 L148.00,86.05 L147.50,86.05 L147.00,86.06 L146.50,86.06 L146.00,86.06 L145.50,86.06 L145.00,86.06 L144.50,86.06 L144.00,86.06 L143.50,86.06 L143.00,86.06 L142.50,86.06 L142.00,86.07 L141.50,86.07 L141.00,86.07 L140.50,86.07 L140.00,86.07 L139.50,86.07 L139.00,86.07 L138.50,86.07 L138.00,86.07 L137.50,86.07 L137.00,86.07 L136.50,86.07 L136.00,86.07 L135.50,86.08 L135.00,86.08 L134.50,86.08 L134.00,86.08 L133.50,86.08 L133.00,86.08 L132.50,86.08 L132.00,86.08 L131.50,86.08 L131.00,86.08 L130.50,86.08 L130.00,86.08 L129.50,86.08 L129.00,86.08 L128.50,86.08 L128.00,86.08 L127.50,86.08 L127.00,86.09 L126.50,86.09 L126.00,86.09 L125.50,86.09 L125.00,86.09 L124.50,86.09 L124.00,86.09 L123.50,86.09 L123.00,86.09 L122.50,86.09 L122.00,86.09 L121.50,86.09 L121.00,86.09 L120.50,86.09 L120.00,86.09 L119.50,86.09 L119.00,86.09 L118.50,86.09 L118.00,86.09 L117.50,86.09 L117.00,86.09 L116.50,86.09 L116.00,86.09 L115.50,86.09 L115.00,86.09 L114.50,86.10 L114.00,86.10 L113.50,86.10 L113.00,86.10 L112.50,86.10 L112.00,86.10 L111.50,86.10 L111.00,86.10 L110.50,86.10 L110.00,86.10 L109.50,86.10 L109.00,86.10 L108.50,86.10 L108.00,86.10 L107.50,86.10 L107.00,86.10 L106.50,86.10 L106.00,86.10 L105.50,86.10 L105.00,86.10 L104.50,86.10 L104.00,86.10 L103.50,86.10 L103.00,86.10 L102.50,86.10 L102.00,86.10 L101.50,86.10 L101.00,86.10 L100.50,86.10 L100.00,86.10 L99.50,86.10 L99.00,86.10 L98.50,86.10 L98.00,86.10 L97.50,86.10 L97.00,86.10 L96.50,86.10 L96.00,86.10 L95.50,86.10 L95.00,86.10 L94.50,86.10 L94.00,86.10 L93.50,86.10 L93.00,86.10 L92.50,86.11 L92.00,86.11 L91.50,86.11 L91.00,86.11 L90.50,86.11 L90.00,86.11 L89.50,86.11 L89.00,86.11 L88.50,86.11 L88.00,86.11 L87.50,86.11 L87.00,86.11 L86.50,86.11 L86.00,86.11 L85.50,86.11 L85.00,86.11 L84.50,86.11 L84.00,86.11 L83.50,86.11 L83.00,86.11 L82.50,86.11 L82.00,86.11 L81.50,86.11 L81.00,86.11 L80.50,86.11 L80.00,86.11 L79.50,86.11 L79.00,86.11 L78.50,86.11 L78.00,86.11 L77.50,86.11 L77.00,86.11 L76.50,86.11 L76.00,86.11 L75.50,86.11 L75.00,86.11 L74.50,86.11 L74.00,86.11 L73.50,86.11 L73.00,86.11 L72.50,86.11 L72.00,86.11 L71.50,86.11 L71.00,86.11 L70.50,86.11 L70.00,86.11 L69.50,86.11 L69.00,86.11 L68.50,86.11 L68.00,86.11 L67.50,86.11 L67.00,86.11 L66.50,86.11 L66.00,86.11 L65.50,86.11 L65.00,86.11 L64.50,86.11 L64.00,86.11 L63.50,86.11 L63.00,86.11 L62.50,86.11 L62.00,86.11 L61.50,86.11 L61.00,86.11 L60.50,86.11 L60.00,86.11 L59.50,86.11 L59.00,86.11 L58.50,86.11 L58.00,86.11 L57.50,86.11 L57.00,86.11 L56.50,86.11 L56.00,86.11 L55.50,86.11 L55.00,86.11 L54.50,86.11 L54.00,86.11Z" fill="rgb(128,0,128)" fill-opacity="1" stroke="none"/>
</g>
<g stroke="rgb(128,128,128)" stroke-width="1" stroke-dasharray="4 4" fill="none" stroke-opacity="0.125">
<line x1="58.30" y1="234.3" x2="58.30" y2="10.3"/>
<line x1="132.82" y1="234.3" x2="132.82" y2="10.3"/>
<line x1="207.35" y1="234.3" x2="207.35" y2="10.3"/>
<line x1="281.88" y1="234.3" x2="281.88" y2="10.3"/>
<line x1="356.40" y1="234.3" x2="356.40" y2="10.3"/>
<line x1="58.3" y1="10.30" x2="356.4" y2="10.30"/>
<line x1="58.3" y1="66.30" x2="356.4" y2="66.30"/>
<line x1="58.3" y1="122.30" x2="356.4" y2="122.30"/>
<line x1="58.3" y1="178.30" x2="356.4" y2="178.30"/>
<line x1="58.3" y1="234.30" x2="356.4" y2="234.30"/>
</g>
<rect x="56.8" y="8.2" width="300.2" height="70.2" fill="rgb(192,192,192)" fill-opacity="0.5"/>
<rect x="273.95" y="8.2" width="83.05000000000001" height="226.5" fill="rgb(192,192,192)" fill-opacity="0.5"/>
<line x1="56.8" y1="78.4" x2="357.0" y2="78.4" stroke="rgb(110,110,110)" stroke-width="1.2"/>
<line x1="273.95" y1="8.2" x2="273.95" y2="234.7" stroke="rgb(120,120,120)" stroke-width="1.8"/>
<g stroke="rgb(112,112,112)" stroke-width="0.85" fill="none">
<rect x="58.3" y="10.3" width="298.09999999999997" height="224.0"/>
<path d="M58.30,234.3v-3.4 M58.30,10.3v3.4 M58.3,234.30h3.4 M356.4,234.30h-3.4 M80.73,234.3v-2.3 M80.73,10.3v2.3 M58.3,217.44h2.3 M356.4,217.44h-2.3 M93.86,234.3v-2.3 M93.86,10.3v2.3 M58.3,207.58h2.3 M356.4,207.58h-2.3 M103.17,234.3v-2.3 M103.17,10.3v2.3 M58.3,200.58h2.3 M356.4,200.58h-2.3 M110.39,234.3v-2.3 M110.39,10.3v2.3 M58.3,195.16h2.3 M356.4,195.16h-2.3 M116.29,234.3v-2.3 M116.29,10.3v2.3 M58.3,190.72h2.3 M356.4,190.72h-2.3 M121.28,234.3v-2.3 M121.28,10.3v2.3 M58.3,186.97h2.3 M356.4,186.97h-2.3 M125.60,234.3v-2.3 M125.60,10.3v2.3 M58.3,183.73h2.3 M356.4,183.73h-2.3 M129.41,234.3v-2.3 M129.41,10.3v2.3 M58.3,180.86h2.3 M356.4,180.86h-2.3 M132.82,234.3v-3.4 M132.82,10.3v3.4 M58.3,178.30h3.4 M356.4,178.30h-3.4 M155.26,234.3v-2.3 M155.26,10.3v2.3 M58.3,161.44h2.3 M356.4,161.44h-2.3 M168.38,234.3v-2.3 M168.38,10.3v2.3 M58.3,151.58h2.3 M356.4,151.58h-2.3 M177.69,234.3v-2.3 M177.69,10.3v2.3 M58.3,144.58h2.3 M356.4,144.58h-2.3 M184.92,234.3v-2.3 M184.92,10.3v2.3 M58.3,139.16h2.3 M356.4,139.16h-2.3 M190.82,234.3v-2.3 M190.82,10.3v2.3 M58.3,134.72h2.3 M356.4,134.72h-2.3 M195.81,234.3v-2.3 M195.81,10.3v2.3 M58.3,130.97h2.3 M356.4,130.97h-2.3 M200.13,234.3v-2.3 M200.13,10.3v2.3 M58.3,127.73h2.3 M356.4,127.73h-2.3 M203.94,234.3v-2.3 M203.94,10.3v2.3 M58.3,124.86h2.3 M356.4,124.86h-2.3 M207.35,234.3v-3.4 M207.35,10.3v3.4 M58.3,122.30h3.4 M356.4,122.30h-3.4 M229.78,234.3v-2.3 M229.78,10.3v2.3 M58.3,105.44h2.3 M356.4,105.44h-2.3 M242.91,234.3v-2.3 M242.91,10.3v2.3 M58.3,95.58h2.3 M356.4,95.58h-2.3 M252.22,234.3v-2.3 M252.22,10.3v2.3 M58.3,88.58h2.3 M356.4,88.58h-2.3 M259.44,234.3v-2.3 M259.44,10.3v2.3 M58.3,83.16h2.3 M356.4,83.16h-2.3 M265.34,234.3v-2.3 M265.34,10.3v2.3 M58.3,78.72h2.3 M356.4,78.72h-2.3 M270.33,234.3v-2.3 M270.33,10.3v2.3 M58.3,74.97h2.3 M356.4,74.97h-2.3 M274.65,234.3v-2.3 M274.65,10.3v2.3 M58.3,71.73h2.3 M356.4,71.73h-2.3 M278.46,234.3v-2.3 M278.46,10.3v2.3 M58.3,68.86h2.3 M356.4,68.86h-2.3 M281.88,234.3v-3.4 M281.88,10.3v3.4 M58.3,66.30h3.4 M356.4,66.30h-3.4 M304.31,234.3v-2.3 M304.31,10.3v2.3 M58.3,49.44h2.3 M356.4,49.44h-2.3 M317.43,234.3v-2.3 M317.43,10.3v2.3 M58.3,39.58h2.3 M356.4,39.58h-2.3 M326.74,234.3v-2.3 M326.74,10.3v2.3 M58.3,32.58h2.3 M356.4,32.58h-2.3 M333.97,234.3v-2.3 M333.97,10.3v2.3 M58.3,27.16h2.3 M356.4,27.16h-2.3 M339.87,234.3v-2.3 M339.87,10.3v2.3 M58.3,22.72h2.3 M356.4,22.72h-2.3 M344.86,234.3v-2.3 M344.86,10.3v2.3 M58.3,18.97h2.3 M356.4,18.97h-2.3 M349.18,234.3v-2.3 M349.18,10.3v2.3 M58.3,15.73h2.3 M356.4,15.73h-2.3 M352.99,234.3v-2.3 M352.99,10.3v2.3 M58.3,12.86h2.3 M356.4,12.86h-2.3 M356.40,234.3v-3.4 M356.40,10.3v3.4 M58.3,10.30h3.4 M356.4,10.30h-3.4" stroke="rgb(100,100,100)" stroke-width="0.95"/>
</g>
<g font-family="Liberation Sans, sans-serif" font-size="12.3px" fill="#000">
<path d="M51.65,5.70H52.70V14.50H51.65V8.25H49.50V7.46Q51.40,7.20 51.60,5.70Z" fill="#000"/>
<text x="54.9" y="70.30" text-anchor="end">0.100</text>
<text x="54.9" y="126.30" text-anchor="end">0.010</text>
<text x="54.9" y="182.30" text-anchor="end">0.001</text>
<text x="54.2" y="238.80" text-anchor="end">10<tspan font-size="9.2px" dy="-6.2">−4</tspan></text>
<text x="132.82" y="250.2" text-anchor="middle">0.001</text>
<text x="207.35" y="250.2" text-anchor="middle">0.010</text>
<text x="281.88" y="250.2" text-anchor="middle">0.100</text>
<path d="M356.50,241.40H357.55V250.20H356.50V243.95H354.35V243.16Q356.25,242.90 356.45,241.40Z" fill="#000"/>
<text x="58.00" y="250.4" text-anchor="middle">10<tspan font-size="9.2px" dy="-6.2">−4</tspan></text>
<text x="207.4" y="273.4" text-anchor="middle" font-size="13px"><tspan font-style="italic">m</tspan><tspan font-size="9.4px" dy="3.8">lightest</tspan><tspan dy="-3.8"> (eV)</tspan></text>
<text transform="translate(12.2,122.0) rotate(-90)" text-anchor="middle" font-size="13px">|<tspan font-style="italic">m</tspan><tspan font-size="9.4px" dy="4.0">ee</tspan><tspan dy="-4.0">| (eV)</tspan></text>
<text x="61.6" y="48.0" font-size="12.6px">Disfavored by neutrinoless double <tspan font-style="italic">β</tspan></text>
<text transform="translate(321.5,156.8) rotate(-90)" text-anchor="middle" font-size="12.6px">Disfavored by cosmology</text>
<circle cx="380.6" cy="91.3" r="5" fill="rgb(102,102,255)"/>
<text x="393.2" y="95.20" font-size="12.4px">Normal Ordering</text>
<circle cx="380.6" cy="124.3" r="5" fill="rgb(255,102,102)"/>
<text x="393.2" y="128.20" font-size="12.4px">Inverted Ordering</text>
<circle cx="380.6" cy="157.3" r="5" fill="rgb(0,128,128)"/>
<text x="393.2" y="161.20" font-size="12.4px">Model prediction NO</text>
<circle cx="380.6" cy="190.3" r="5" fill="rgb(128,0,128)"/>
<text x="393.2" y="194.20" font-size="12.4px">Model prediction IO</text>
</g>
</svg>
</body></html>
